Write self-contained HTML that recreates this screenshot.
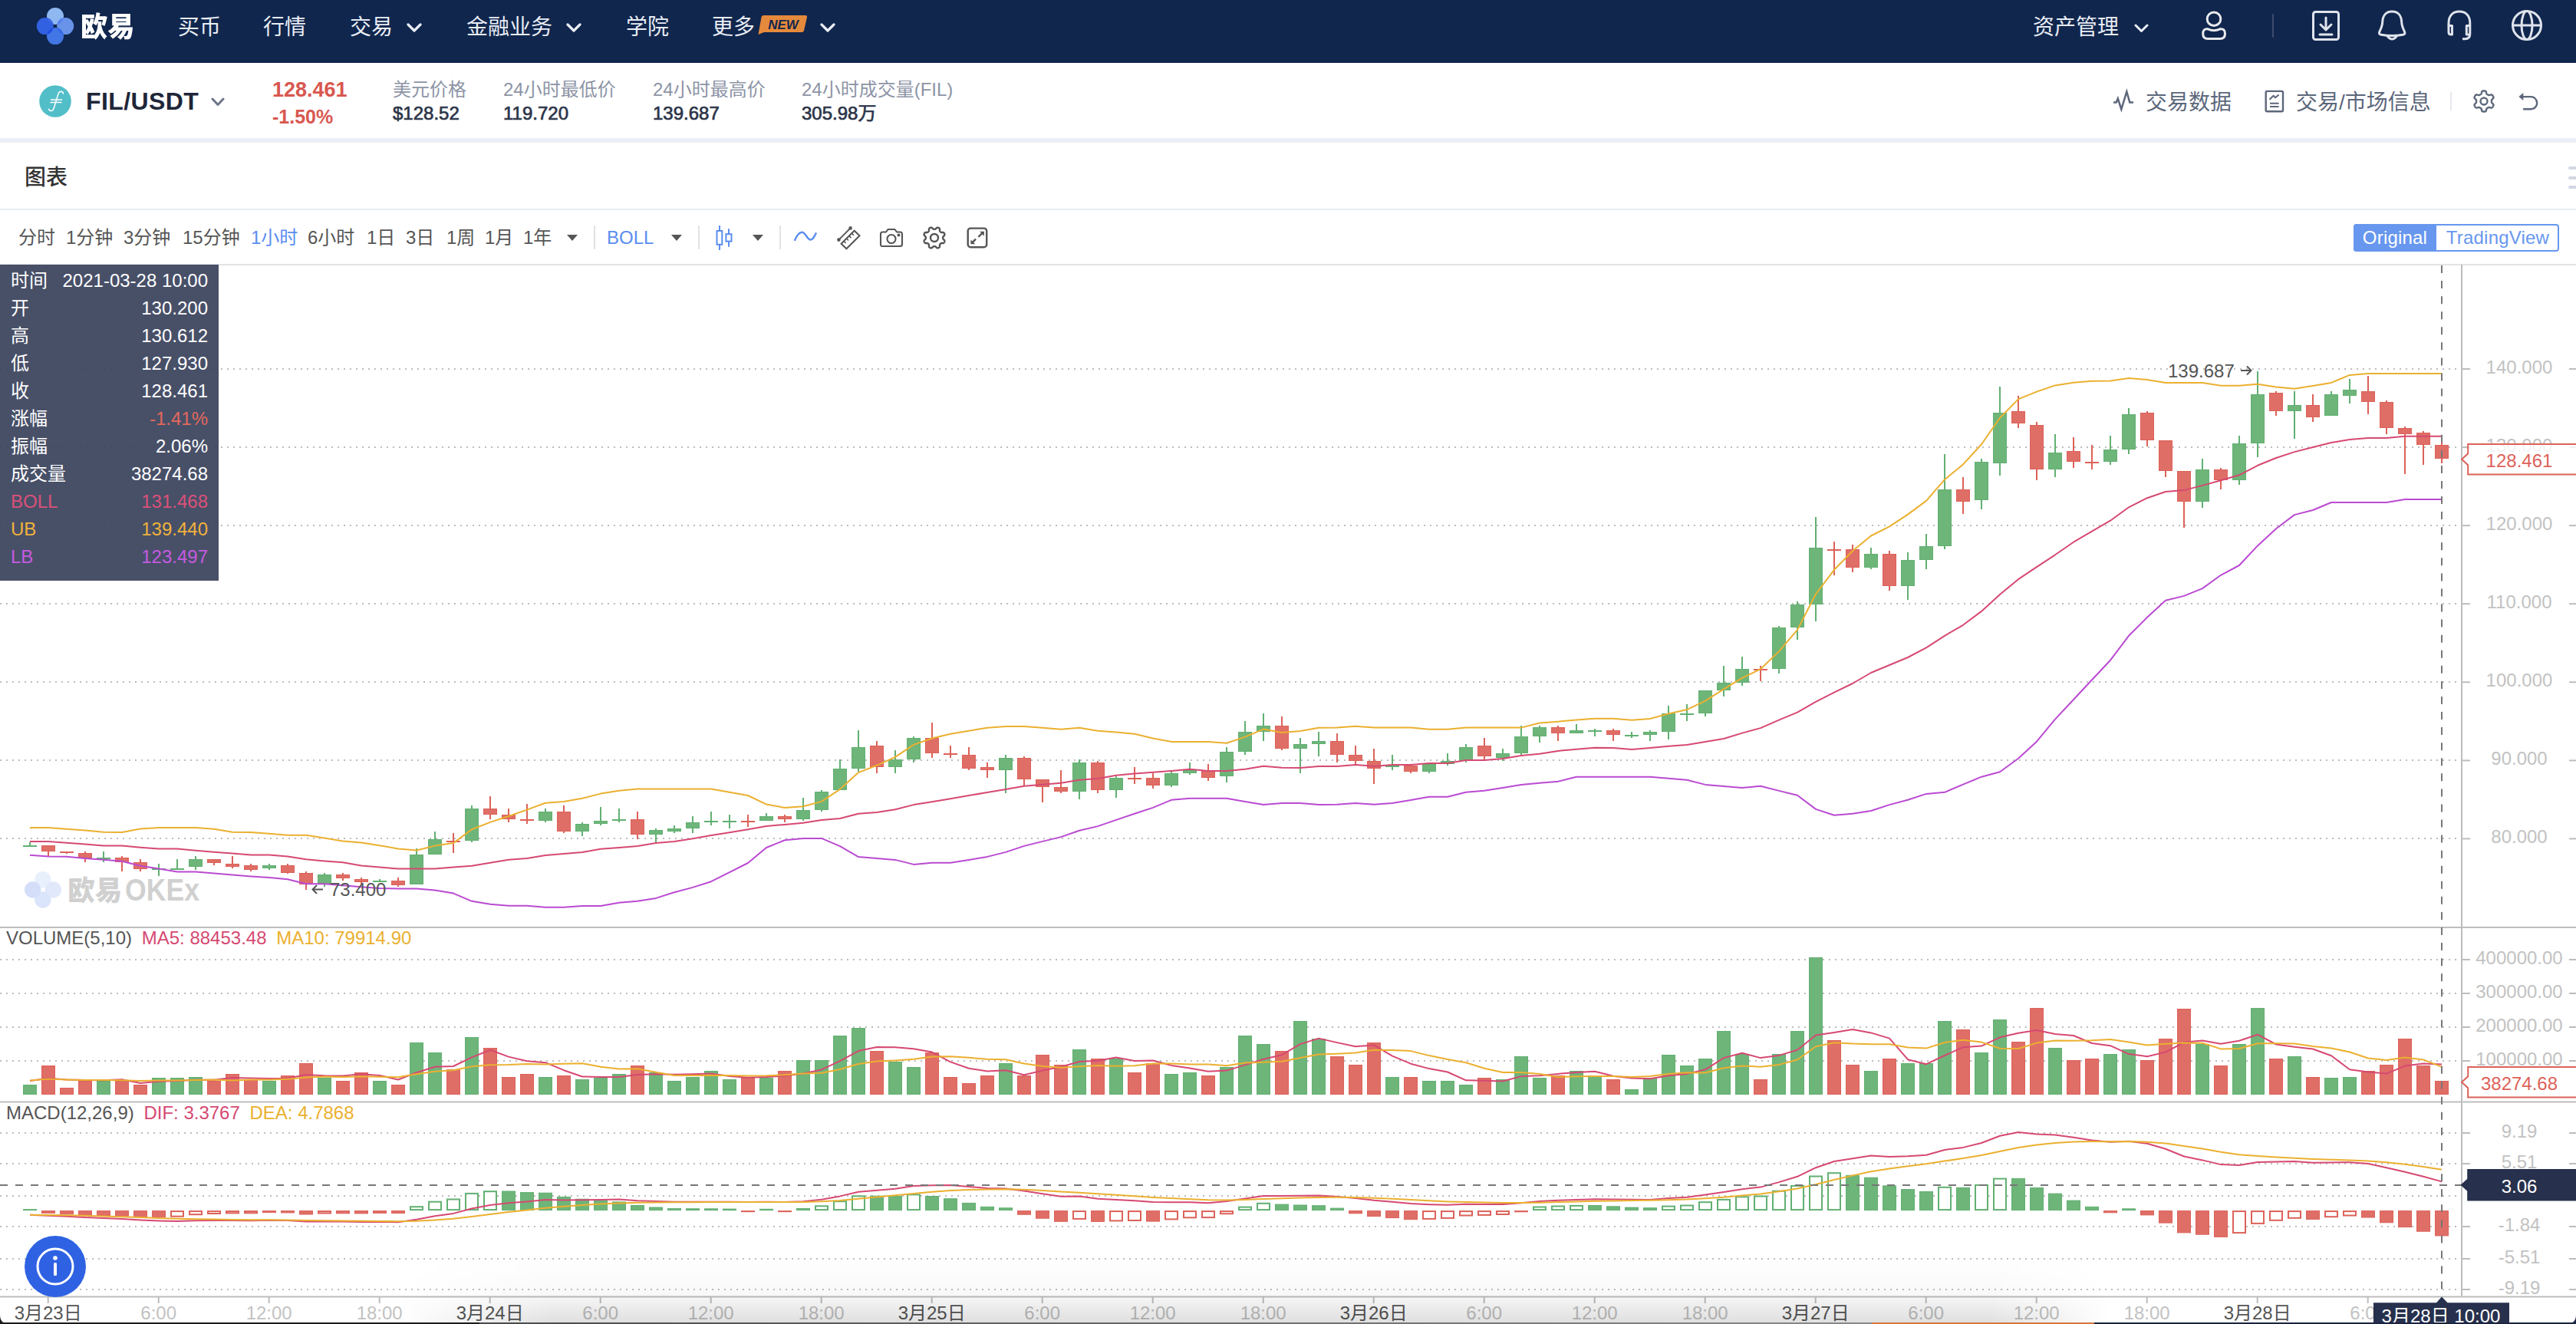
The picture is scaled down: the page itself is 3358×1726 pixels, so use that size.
<!DOCTYPE html><html lang="zh"><head><meta charset="utf-8"><title>FIL/USDT</title><style>
*{box-sizing:border-box;margin:0;padding:0}
html{background:#fff}body{width:3358px;height:1726px;background:#fff}#root{position:absolute;left:0;top:0;width:3358px;height:1726px;overflow:hidden;background:#fff}
body{position:relative;font-family:'Liberation Sans','Noto Sans CJK SC',sans-serif;color:#333}
.a{position:absolute;white-space:nowrap}
#nav{left:0;top:0;width:3358px;height:82px;background:#10264d}
.nv{color:#e9edf5;font-size:28px;line-height:40px;top:16px}
.tk{top:82px;left:0;width:3358px;height:98px;background:#fff}
.band{top:180px;left:0;width:3358px;height:6px;background:#eceef7}
.lab{font-size:24px;line-height:30px;color:#8d94a6;top:102px}
.val{font-size:24px;line-height:30px;color:#2c3549;top:133px;-webkit-text-stroke:0.7px #2c3549}
.tb{font-size:24px;line-height:30px;color:#555;top:295px}
.sep{width:2px;height:31px;top:294px;background:#e2e2e2}
.tri{width:0;height:0;border-left:7px solid transparent;border-right:7px solid transparent;border-top:8px solid #555;top:306px}
#info{left:0;top:345px;width:285px;height:412px;background:rgba(58,67,93,0.93);color:#fff;font-size:24px}
#info div{position:absolute;left:14px;right:14px;height:36px;line-height:36px}
#info span{position:absolute;right:0}
</style></head><body><div id="root">
<div id="nav" class="a">
<svg class="a" style="left:44px;top:6px" width="56" height="56" viewBox="44 6 56 56"><defs><clipPath id="cT"><circle cx="72" cy="21" r="11"/></clipPath><clipPath id="cB"><circle cx="72" cy="47.100" r="11"/></clipPath></defs><circle cx="72" cy="21" r="11" fill="#8fb8f0"/><circle cx="85.200" cy="34.100" r="11" fill="#6993e8"/><circle cx="72" cy="47.100" r="11" fill="#4376e5"/><circle cx="58.800" cy="34.100" r="11" fill="#3160e0"/><circle cx="58.800" cy="34.100" r="11" fill="#3a68e6" clip-path="url(#cT)"/><circle cx="85.200" cy="34.100" r="11" fill="#557fec" clip-path="url(#cT)"/><circle cx="58.800" cy="34.100" r="11" fill="#1f4fe0" clip-path="url(#cB)"/><circle cx="85.200" cy="34.100" r="11" fill="#3767e6" clip-path="url(#cB)"/><rect x="70" y="32.100" width="4" height="4" fill="#10264d"/></svg>
<div class="a" style="left:105px;top:12px;font-size:36.5px;line-height:48px;font-weight:900;color:#fff;font-family:'Liberation Sans','Noto Sans CJK SC',sans-serif;transform:scaleX(0.965);transform-origin:0 0">欧易</div>
<div class="a nv" style="left:232px">买币</div>
<div class="a nv" style="left:343px">行情</div>
<div class="a nv" style="left:456px">交易</div>
<svg class="a" style="left:530px;top:30px" width="20" height="12" viewBox="-2 -2 20 12"><path d="M0 0 L8.0 8 L16 0" fill="none" stroke="#e9edf5" stroke-width="3.2" stroke-linecap="round" stroke-linejoin="round"/></svg>
<div class="a nv" style="left:608px">金融业务</div>
<svg class="a" style="left:738px;top:30px" width="20" height="12" viewBox="-2 -2 20 12"><path d="M0 0 L8.0 8 L16 0" fill="none" stroke="#e9edf5" stroke-width="3.2" stroke-linecap="round" stroke-linejoin="round"/></svg>
<div class="a nv" style="left:816px">学院</div>
<div class="a nv" style="left:928px">更多</div>
<svg class="a" style="left:986px;top:18px" width="68" height="28" viewBox="0 0 68 28"><path d="M9 2 H64 Q66.5 2 66 4.5 L62 22 Q61.5 24 59 24 H10 L2.5 27 L6.5 4.5 Q7 2 9 2Z" fill="#e58a3c"/><text x="35" y="19.5" text-anchor="middle" font-size="17" font-weight="bold" font-style="italic" fill="#10264d" font-family="'Liberation Sans',sans-serif">NEW</text></svg>
<svg class="a" style="left:1069px;top:30px" width="20" height="12" viewBox="-2 -2 20 12"><path d="M0 0 L8.0 8 L16 0" fill="none" stroke="#e9edf5" stroke-width="3.2" stroke-linecap="round" stroke-linejoin="round"/></svg>
<div class="a nv" style="left:2650px">资产管理</div>
<svg class="a" style="left:2782px;top:31px" width="19" height="11.5" viewBox="-2 -2 19 11.5"><path d="M0 0 L7.5 7.5 L15 0" fill="none" stroke="#e9edf5" stroke-width="3" stroke-linecap="round" stroke-linejoin="round"/></svg>
<svg class="a" style="left:2866px;top:10px" width="40" height="46" viewBox="2866 10 40 46" fill="none" stroke="#e8e9ec" stroke-width="3" stroke-linejoin="round"><circle cx="2886" cy="24.700" r="8.800"/><path d="M2878 37.800 Q2886 41.500 2894 37.800 Q2900.500 37 2900.500 44 Q2900.500 50.500 2894 50.500 H2878 Q2871.700 50.500 2871.700 44 Q2871.700 37 2878 37.800 Z"/></svg>
<div class="a" style="left:2962px;top:18px;width:2px;height:31px;background:#3b4b6c"></div>
<svg class="a" style="left:3012px;top:12px" width="40" height="42" viewBox="0 0 40 42" fill="none" stroke="#dfe3ec" stroke-width="3" stroke-linecap="round" stroke-linejoin="round"><rect x="3.5" y="3.5" width="33" height="36" rx="3"/><path d="M20 11 V26 M13 20 L20 27 L27 20 M12 33 H28"/></svg>
<svg class="a" style="left:3098px;top:12px" width="40" height="42" viewBox="0 0 40 42" fill="none" stroke="#dfe3ec" stroke-width="3" stroke-linecap="round" stroke-linejoin="round"><path d="M20.200 3.100 C12 3.100 8 9 7.700 17 C7.500 22 6 25 3.800 29.500 Q2.500 32.500 6 33.200 Q20.200 35.800 34.400 33.200 Q37.900 32.500 36.600 29.500 C34.400 25 32.900 22 32.700 17 C32.400 9 28.400 3.100 20.200 3.100 Z"/><path d="M14.500 35.500 Q20.200 42.500 26 35.500"/></svg>
<svg class="a" style="left:3186px;top:10px" width="40" height="46" viewBox="3186 10 40 46" fill="none" stroke="#dfe3ec" stroke-width="3" stroke-linejoin="round"><path d="M3192 34 V30 C3192 20 3198 15.100 3205.900 15.100 C3213.800 15.100 3219.800 20 3219.800 30 V44 Q3219.800 50.700 3213.500 50.700 H3210"/><path d="M3192 33.500 H3196.500 V45 H3195 Q3192 45 3192 42 Z"/><path d="M3219.800 33.500 H3215.300 V45 H3219.800"/></svg>
<svg class="a" style="left:3272px;top:11px" width="44" height="44" viewBox="0 0 44 44" fill="none" stroke="#dfe3ec" stroke-width="3"><circle cx="22" cy="22" r="18.500"/><ellipse cx="22" cy="22" rx="7" ry="18.500"/><path d="M3 22 H41"/></svg>
</div>
<div class="a tk"></div><div class="a band"></div>
<svg class="a" style="left:50px;top:110px" width="44" height="44" viewBox="50 110 44 44"><circle cx="72" cy="132" r="20.800" fill="#52bec8"/><path d="M82.600 122 C81.500 118.300 77.200 118.200 75.800 123 L70.400 140.500 C69 145.300 65.300 145.600 63.500 142.400 M66.600 129.900 H80.600 M65.900 133.500 H79.900" fill="none" stroke="#fff" stroke-width="1.500" stroke-linecap="round"/></svg>
<div class="a" style="left:112px;top:112px;font-size:32px;line-height:40px;font-weight:bold;color:#1f2639;letter-spacing:0.4px">FIL/USDT</div>
<svg class="a" style="left:275px;top:127px" width="18" height="11.5" viewBox="-2 -2 18 11.5"><path d="M0 0 L7.0 7.5 L14 0" fill="none" stroke="#6e768a" stroke-width="3" stroke-linecap="round" stroke-linejoin="round"/></svg>
<div class="a" style="left:355px;top:101px;font-size:27px;line-height:32px;font-weight:bold;color:#d8574f">128.461</div>
<div class="a" style="left:355px;top:137px;font-size:25px;line-height:30px;font-weight:bold;color:#d8574f">-1.50%</div>
<div class="a lab" style="left:512px">美元价格</div><div class="a val" style="left:512px">$128.52</div>
<div class="a lab" style="left:656px">24小时最低价</div><div class="a val" style="left:656px">119.720</div>
<div class="a lab" style="left:851px">24小时最高价</div><div class="a val" style="left:851px">139.687</div>
<div class="a lab" style="left:1045px">24小时成交量(FIL)</div><div class="a val" style="left:1045px">305.98万</div>
<svg class="a" style="left:2750px;top:114px" width="36" height="34" viewBox="2750 114 36 34" fill="none" stroke="#5d677b" stroke-width="2.500" stroke-linejoin="miter"><path d="M2755 133.600 H2758.700 L2760.800 128.500 L2765.300 142.500 L2772.300 119.500 L2776.300 133.600 H2781"/></svg>
<div class="a" style="left:2797px;top:114px;font-size:28px;line-height:40px;color:#5d677b">交易数据</div>
<svg class="a" style="left:2948px;top:114px" width="34" height="36" viewBox="2948 114 34 36" fill="none" stroke="#5d677b" stroke-width="2.400" stroke-linejoin="round"><rect x="2953.700" y="118.900" width="22.300" height="26.300" rx="1.500"/><path d="M2958.500 129.800 L2963.600 124.700 L2966.100 127.300 L2970.600 123.400 M2959 134.800 H2970.600 M2959 138.900 H2970.600" stroke-width="2"/></svg>
<div class="a" style="left:2993px;top:114px;font-size:28px;line-height:40px;color:#5d677b">交易/市场信息</div>
<div class="a" style="left:3194px;top:120px;width:2px;height:24px;background:#e6e8ef"></div>
<svg class="a" style="left:3217.9px;top:112.4px" width="40" height="40" viewBox="0 0 40 40" fill="none" stroke="#5d677b" stroke-width="2.4" stroke-linejoin="round"><path d="M29.94 20.00 L29.94 20.26 L29.94 20.52 L29.94 20.78 L29.95 21.05 L29.97 21.31 L30.03 21.59 L30.17 21.88 L30.42 22.22 L30.83 22.60 L31.35 23.04 L31.85 23.51 L32.22 23.97 L32.40 24.39 L32.45 24.78 L32.42 25.14 L32.33 25.49 L32.21 25.82 L32.07 26.15 L31.91 26.47 L31.74 26.78 L31.56 27.08 L31.36 27.38 L31.15 27.66 L30.92 27.93 L30.66 28.18 L30.37 28.40 L30.01 28.55 L29.55 28.59 L28.97 28.51 L28.31 28.31 L27.67 28.08 L27.13 27.92 L26.72 27.86 L26.39 27.90 L26.12 27.98 L25.88 28.09 L25.65 28.22 L25.42 28.35 L25.20 28.48 L24.97 28.61 L24.75 28.74 L24.52 28.87 L24.29 29.00 L24.07 29.14 L23.85 29.29 L23.64 29.48 L23.45 29.75 L23.29 30.13 L23.16 30.68 L23.04 31.35 L22.89 32.02 L22.67 32.56 L22.40 32.94 L22.09 33.18 L21.75 33.33 L21.41 33.42 L21.06 33.49 L20.71 33.53 L20.35 33.55 L20.00 33.56 L19.65 33.55 L19.29 33.53 L18.94 33.49 L18.59 33.42 L18.25 33.33 L17.91 33.18 L17.60 32.94 L17.33 32.56 L17.11 32.02 L16.96 31.35 L16.84 30.68 L16.71 30.13 L16.55 29.75 L16.36 29.48 L16.15 29.29 L15.93 29.14 L15.71 29.00 L15.48 28.87 L15.25 28.74 L15.03 28.61 L14.80 28.48 L14.58 28.35 L14.35 28.22 L14.12 28.09 L13.88 27.98 L13.61 27.90 L13.28 27.86 L12.87 27.92 L12.33 28.08 L11.69 28.31 L11.03 28.51 L10.45 28.59 L9.99 28.55 L9.63 28.40 L9.34 28.18 L9.08 27.93 L8.85 27.66 L8.64 27.38 L8.44 27.08 L8.26 26.78 L8.09 26.47 L7.93 26.15 L7.79 25.82 L7.67 25.49 L7.58 25.14 L7.55 24.78 L7.60 24.39 L7.78 23.97 L8.15 23.51 L8.65 23.04 L9.17 22.60 L9.58 22.22 L9.83 21.88 L9.97 21.59 L10.03 21.31 L10.05 21.05 L10.06 20.78 L10.06 20.52 L10.06 20.26 L10.06 20.00 L10.06 19.74 L10.06 19.48 L10.06 19.22 L10.05 18.95 L10.03 18.69 L9.97 18.41 L9.83 18.12 L9.58 17.78 L9.17 17.40 L8.65 16.96 L8.15 16.49 L7.78 16.03 L7.60 15.61 L7.55 15.22 L7.58 14.86 L7.67 14.51 L7.79 14.18 L7.93 13.85 L8.09 13.53 L8.26 13.22 L8.44 12.92 L8.64 12.62 L8.85 12.34 L9.08 12.07 L9.34 11.82 L9.63 11.60 L9.99 11.45 L10.45 11.41 L11.03 11.49 L11.69 11.69 L12.33 11.92 L12.87 12.08 L13.28 12.14 L13.61 12.10 L13.88 12.02 L14.12 11.91 L14.35 11.78 L14.58 11.65 L14.80 11.52 L15.03 11.39 L15.25 11.26 L15.48 11.13 L15.71 11.00 L15.93 10.86 L16.15 10.71 L16.36 10.52 L16.55 10.25 L16.71 9.87 L16.84 9.32 L16.96 8.65 L17.11 7.98 L17.33 7.44 L17.60 7.06 L17.91 6.82 L18.25 6.67 L18.59 6.58 L18.94 6.51 L19.29 6.47 L19.65 6.45 L20.00 6.44 L20.35 6.45 L20.71 6.47 L21.06 6.51 L21.41 6.58 L21.75 6.67 L22.09 6.82 L22.40 7.06 L22.67 7.44 L22.89 7.98 L23.04 8.65 L23.16 9.32 L23.29 9.87 L23.45 10.25 L23.64 10.52 L23.85 10.71 L24.07 10.86 L24.29 11.00 L24.52 11.13 L24.75 11.26 L24.97 11.39 L25.20 11.52 L25.42 11.65 L25.65 11.78 L25.88 11.91 L26.12 12.02 L26.39 12.10 L26.72 12.14 L27.13 12.08 L27.67 11.92 L28.31 11.69 L28.97 11.49 L29.55 11.41 L30.01 11.45 L30.37 11.60 L30.66 11.82 L30.92 12.07 L31.15 12.34 L31.36 12.62 L31.56 12.92 L31.74 13.22 L31.91 13.53 L32.07 13.85 L32.21 14.18 L32.33 14.51 L32.42 14.86 L32.45 15.22 L32.40 15.61 L32.22 16.03 L31.85 16.49 L31.35 16.96 L30.83 17.40 L30.42 17.78 L30.17 18.12 L30.03 18.41 L29.97 18.69 L29.95 18.95 L29.94 19.22 L29.94 19.48 L29.94 19.74Z"/><circle cx="20" cy="20" r="4.5"/></svg>
<svg class="a" style="left:3278px;top:116px" width="36" height="32" viewBox="3278 116 36 32" fill="none" stroke="#5d677b" stroke-width="2.400" stroke-linecap="round"><path d="M3289 126.100 H3299.100 A8.100 8.100 0 0 1 3299.100 142.300 H3290"/><path d="M3283.400 126.100 L3289.300 121.100 V131.100 Z" fill="#5d677b" stroke="none"/></svg>
<div class="a" style="left:32px;top:212px;font-size:28px;line-height:40px;color:#333;font-weight:500">图表</div>
<div class="a" style="left:0;top:272px;width:3358px;height:2px;background:#e8ebf5"></div>
<div class="a" style="left:3348px;top:217px;width:14px;height:4px;border-radius:2px;background:#d3d7e3"></div>
<div class="a" style="left:3348px;top:229.5px;width:14px;height:4px;border-radius:2px;background:#d3d7e3"></div>
<div class="a" style="left:3348px;top:242px;width:14px;height:4px;border-radius:2px;background:#d3d7e3"></div>
<div class="a tb" style="left:24px">分时</div>
<div class="a tb" style="left:86px">1分钟</div>
<div class="a tb" style="left:161px">3分钟</div>
<div class="a tb" style="left:238px">15分钟</div>
<div class="a tb" style="left:327px;color:#5b8def">1小时</div>
<div class="a tb" style="left:401px">6小时</div>
<div class="a tb" style="left:478px">1日</div>
<div class="a tb" style="left:529px">3日</div>
<div class="a tb" style="left:582px">1周</div>
<div class="a tb" style="left:632px">1月</div>
<div class="a tb" style="left:682px">1年</div>
<div class="a tri" style="left:739px"></div>
<div class="a sep" style="left:774px"></div>
<div class="a tb" style="left:791px;color:#5b8def">BOLL</div>
<div class="a tri" style="left:875px"></div>
<div class="a sep" style="left:910px"></div>
<svg class="a" style="left:930px;top:293px" width="28" height="34" viewBox="0 0 28 34" fill="none" stroke="#5b8def" stroke-width="2"><path d="M8 1 V33 M20 5.200 V28.700"/><rect x="4.500" y="7.900" width="6.800" height="17.900" fill="#fff"/><rect x="16.400" y="12.200" width="7.100" height="9.400" fill="#fff"/></svg>
<div class="a tri" style="left:981px"></div>
<div class="a sep" style="left:1016px"></div>
<svg class="a" style="left:1030px;top:294px" width="40" height="30" viewBox="1030 294 40 30" fill="none" stroke="#5b8def" stroke-width="2.400"><path d="M1035.800 313.900 C1039 306 1042 302.800 1045.500 302.800 C1050 302.800 1052.500 312.600 1056.400 312.600 C1059.500 312.600 1061.500 308.500 1064 303.400"/></svg>
<svg class="a" style="left:1090px;top:294px" width="34" height="34" viewBox="0 0 34 34" fill="none" stroke="#555" stroke-width="2" stroke-linejoin="miter"><path d="M3.400 18.600 L18.600 3.400"/><circle cx="18.600" cy="3.400" r="1.300" fill="#555"/><circle cx="3.400" cy="18.600" r="1.300" fill="#555"/><path d="M6.600 23.700 L23.700 6.700 L30.500 13.200 L13.400 30.300 Z"/><path d="M10.0 20.3 l2.600 2.600 M13.4 16.9 l2.600 2.600 M16.9 13.5 l2.600 2.600 M20.3 10.1 l2.600 2.600" stroke-width="1.600"/></svg>
<svg class="a" style="left:1146px;top:297px" width="32" height="26" viewBox="0 0 32 26" fill="none" stroke="#555" stroke-width="2.100" stroke-linejoin="round"><path d="M4.500 5.500 H9 L11.500 2 H20.500 L23 5.500 H27.500 Q30 5.500 30 8 V21.500 Q30 24 27.500 24 H4.500 Q2 24 2 21.500 V8 Q2 5.500 4.500 5.500Z"/><circle cx="16" cy="14.500" r="5.500"/><circle cx="25.500" cy="9.500" r="1" fill="#555"/></svg>
<svg class="a" style="left:1197.8px;top:290.1px" width="40" height="40" viewBox="0 0 40 40" fill="none" stroke="#555" stroke-width="2.4" stroke-linejoin="round"><path d="M31.13 20.00 L31.13 20.29 L31.15 20.58 L31.20 20.88 L31.28 21.19 L31.46 21.51 L31.75 21.86 L32.17 22.26 L32.64 22.69 L33.03 23.13 L33.28 23.56 L33.38 23.96 L33.38 24.35 L33.32 24.72 L33.22 25.08 L33.09 25.42 L32.94 25.76 L32.76 26.08 L32.54 26.39 L32.26 26.66 L31.90 26.87 L31.43 27.00 L30.84 27.04 L30.20 27.01 L29.62 26.99 L29.17 27.03 L28.82 27.14 L28.54 27.29 L28.30 27.47 L28.08 27.67 L27.87 27.87 L27.67 28.08 L27.47 28.30 L27.29 28.54 L27.14 28.82 L27.03 29.17 L26.99 29.62 L27.01 30.20 L27.04 30.84 L27.00 31.43 L26.87 31.90 L26.66 32.26 L26.39 32.54 L26.08 32.76 L25.76 32.94 L25.42 33.09 L25.08 33.22 L24.72 33.32 L24.35 33.38 L23.96 33.38 L23.56 33.28 L23.13 33.03 L22.69 32.64 L22.26 32.17 L21.86 31.75 L21.51 31.46 L21.19 31.28 L20.88 31.20 L20.58 31.15 L20.29 31.13 L20.00 31.13 L19.71 31.13 L19.42 31.15 L19.12 31.20 L18.81 31.28 L18.49 31.46 L18.14 31.75 L17.74 32.17 L17.31 32.64 L16.87 33.03 L16.44 33.28 L16.04 33.38 L15.65 33.38 L15.28 33.32 L14.92 33.22 L14.58 33.09 L14.24 32.94 L13.92 32.76 L13.61 32.54 L13.34 32.26 L13.13 31.90 L13.00 31.43 L12.96 30.84 L12.99 30.20 L13.01 29.62 L12.97 29.17 L12.86 28.82 L12.71 28.54 L12.53 28.30 L12.33 28.08 L12.13 27.87 L11.92 27.67 L11.70 27.47 L11.46 27.29 L11.18 27.14 L10.83 27.03 L10.38 26.99 L9.80 27.01 L9.16 27.04 L8.57 27.00 L8.10 26.87 L7.74 26.66 L7.46 26.39 L7.24 26.08 L7.06 25.76 L6.91 25.42 L6.78 25.08 L6.68 24.72 L6.62 24.35 L6.62 23.96 L6.72 23.56 L6.97 23.13 L7.36 22.69 L7.83 22.26 L8.25 21.86 L8.54 21.51 L8.72 21.19 L8.80 20.88 L8.85 20.58 L8.87 20.29 L8.87 20.00 L8.87 19.71 L8.85 19.42 L8.80 19.12 L8.72 18.81 L8.54 18.49 L8.25 18.14 L7.83 17.74 L7.36 17.31 L6.97 16.87 L6.72 16.44 L6.62 16.04 L6.62 15.65 L6.68 15.28 L6.78 14.92 L6.91 14.58 L7.06 14.24 L7.24 13.92 L7.46 13.61 L7.74 13.34 L8.10 13.13 L8.57 13.00 L9.16 12.96 L9.80 12.99 L10.38 13.01 L10.83 12.97 L11.18 12.86 L11.46 12.71 L11.70 12.53 L11.92 12.33 L12.13 12.13 L12.33 11.92 L12.53 11.70 L12.71 11.46 L12.86 11.18 L12.97 10.83 L13.01 10.38 L12.99 9.80 L12.96 9.16 L13.00 8.57 L13.13 8.10 L13.34 7.74 L13.61 7.46 L13.92 7.24 L14.24 7.06 L14.58 6.91 L14.92 6.78 L15.28 6.68 L15.65 6.62 L16.04 6.62 L16.44 6.72 L16.87 6.97 L17.31 7.36 L17.74 7.83 L18.14 8.25 L18.49 8.54 L18.81 8.72 L19.12 8.80 L19.42 8.85 L19.71 8.87 L20.00 8.87 L20.29 8.87 L20.58 8.85 L20.88 8.80 L21.19 8.72 L21.51 8.54 L21.86 8.25 L22.26 7.83 L22.69 7.36 L23.13 6.97 L23.56 6.72 L23.96 6.62 L24.35 6.62 L24.72 6.68 L25.08 6.78 L25.42 6.91 L25.76 7.06 L26.08 7.24 L26.39 7.46 L26.66 7.74 L26.87 8.10 L27.00 8.57 L27.04 9.16 L27.01 9.80 L26.99 10.38 L27.03 10.83 L27.14 11.18 L27.29 11.46 L27.47 11.70 L27.67 11.92 L27.87 12.13 L28.08 12.33 L28.30 12.53 L28.54 12.71 L28.82 12.86 L29.17 12.97 L29.62 13.01 L30.20 12.99 L30.84 12.96 L31.43 13.00 L31.90 13.13 L32.26 13.34 L32.54 13.61 L32.76 13.92 L32.94 14.24 L33.09 14.58 L33.22 14.92 L33.32 15.28 L33.38 15.65 L33.38 16.04 L33.28 16.44 L33.03 16.87 L32.64 17.31 L32.17 17.74 L31.75 18.14 L31.46 18.49 L31.28 18.81 L31.20 19.12 L31.15 19.42 L31.13 19.71Z"/><circle cx="20" cy="20" r="5"/></svg>
<svg class="a" style="left:1256px;top:292px" width="36" height="36" viewBox="1256 292 36 36" fill="none" stroke="#555" stroke-width="2.400" stroke-linejoin="round"><rect x="1261.700" y="297.600" width="24.500" height="24.600" rx="3.500"/><path d="M1275.400 308.800 L1281 303.300 M1272 311.700 L1266.500 317.200" stroke-width="2.400"/><path d="M1277.100 301.700 H1282.900 V307.700 Z M1265.400 312.600 V318.300 H1271.300 Z" fill="#555" stroke="none"/></svg>
<div class="a" style="left:3068px;top:292px;width:268px;height:36px;border:2px solid #6797ee;border-radius:4px;background:#fff"></div>
<div class="a" style="left:3068px;top:292px;width:108px;height:36px;background:#6797ee;border-radius:4px 0 0 4px;color:#fff;font-size:24px;line-height:36px;text-align:center;letter-spacing:0.2px">Original</div>
<div class="a" style="left:3176px;top:292px;width:160px;height:36px;color:#6797ee;font-size:24px;line-height:36px;text-align:center;letter-spacing:0.2px">TradingView</div>
<div class="a" style="left:0;top:344px;width:3358px;height:2px;background:#e3e3e3"></div>
<svg id="chart" width="3358" height="1381" viewBox="0 345 3358 1381" style="position:absolute;left:0;top:345px;font-family:'Liberation Sans','Noto Sans CJK SC',sans-serif;font-size:24px">
<line x1="0" y1="1093" x2="3209" y2="1093" stroke="#bdbdbd" stroke-width="2" stroke-dasharray="2 6"/>
<line x1="0" y1="991" x2="3209" y2="991" stroke="#bdbdbd" stroke-width="2" stroke-dasharray="2 6"/>
<line x1="0" y1="889" x2="3209" y2="889" stroke="#bdbdbd" stroke-width="2" stroke-dasharray="2 6"/>
<line x1="0" y1="787" x2="3209" y2="787" stroke="#bdbdbd" stroke-width="2" stroke-dasharray="2 6"/>
<line x1="0" y1="685" x2="3209" y2="685" stroke="#bdbdbd" stroke-width="2" stroke-dasharray="2 6"/>
<line x1="0" y1="583" x2="3209" y2="583" stroke="#bdbdbd" stroke-width="2" stroke-dasharray="2 6"/>
<line x1="0" y1="481" x2="3209" y2="481" stroke="#bdbdbd" stroke-width="2" stroke-dasharray="2 6"/>
<line x1="0" y1="1383" x2="3209" y2="1383" stroke="#bdbdbd" stroke-width="2" stroke-dasharray="2 6"/>
<line x1="0" y1="1339" x2="3209" y2="1339" stroke="#bdbdbd" stroke-width="2" stroke-dasharray="2 6"/>
<line x1="0" y1="1295" x2="3209" y2="1295" stroke="#bdbdbd" stroke-width="2" stroke-dasharray="2 6"/>
<line x1="0" y1="1251" x2="3209" y2="1251" stroke="#bdbdbd" stroke-width="2" stroke-dasharray="2 6"/>
<line x1="0" y1="1477" x2="3209" y2="1477" stroke="#bdbdbd" stroke-width="2" stroke-dasharray="2 6"/>
<line x1="0" y1="1517" x2="3209" y2="1517" stroke="#bdbdbd" stroke-width="2" stroke-dasharray="2 6"/>
<line x1="0" y1="1559" x2="3209" y2="1559" stroke="#bdbdbd" stroke-width="2" stroke-dasharray="2 6"/>
<line x1="0" y1="1599" x2="3209" y2="1599" stroke="#bdbdbd" stroke-width="2" stroke-dasharray="2 6"/>
<line x1="0" y1="1641" x2="3209" y2="1641" stroke="#bdbdbd" stroke-width="2" stroke-dasharray="2 6"/>
<line x1="0" y1="1681" x2="3209" y2="1681" stroke="#bdbdbd" stroke-width="2" stroke-dasharray="2 6"/>
<circle cx="55.8" cy="1146.7" r="10.7" fill="#e8f0fc"/><circle cx="69.3" cy="1159.9" r="10.7" fill="#e0e8fa"/><circle cx="55.8" cy="1173" r="10.7" fill="#dae4fa"/><circle cx="42.7" cy="1159.9" r="10.7" fill="#d4def8"/><rect x="53.8" y="1157.9" width="4" height="4" fill="#fff"/>
<text x="88.3" y="1173.6" font-size="36.5" textLength="71" lengthAdjust="spacingAndGlyphs" font-weight="900" fill="#d0d0d0" font-family="'Liberation Sans','Noto Sans CJK SC',sans-serif">欧易</text>
<text x="163" y="1174" font-size="40" textLength="97" lengthAdjust="spacingAndGlyphs" font-weight="bold" fill="#d0d0d0">OKEx</text>
<rect x="38.0" y="1098" width="2" height="6" fill="#62b072"/>
<rect x="30.0" y="1102.0" width="18" height="2.0" fill="#62b072"/>
<rect x="62.0" y="1102" width="2" height="14" fill="#dc6259"/>
<rect x="54.5" y="1102.5" width="17" height="7.0" fill="#df6e67" stroke="#dc6259" stroke-width="1"/>
<rect x="86.0" y="1110" width="2" height="3" fill="#dc6259"/>
<rect x="78.0" y="1110.0" width="18" height="2.0" fill="#dc6259"/>
<rect x="110.0" y="1110" width="2" height="14" fill="#dc6259"/>
<rect x="102.5" y="1112.5" width="17" height="6.0" fill="#df6e67" stroke="#dc6259" stroke-width="1"/>
<rect x="134.0" y="1110" width="2" height="14" fill="#62b072"/>
<rect x="126.0" y="1118.0" width="18" height="2.0" fill="#62b072"/>
<rect x="158.0" y="1116" width="2" height="20" fill="#dc6259"/>
<rect x="150.5" y="1118.5" width="17" height="5.0" fill="#df6e67" stroke="#dc6259" stroke-width="1"/>
<rect x="182.0" y="1120" width="2" height="16" fill="#dc6259"/>
<rect x="174.5" y="1124.5" width="17" height="8.0" fill="#df6e67" stroke="#dc6259" stroke-width="1"/>
<rect x="206.0" y="1126" width="2" height="16" fill="#62b072"/>
<rect x="198.0" y="1132.0" width="18" height="2.0" fill="#62b072"/>
<rect x="230.0" y="1120" width="2" height="13" fill="#62b072"/>
<rect x="222.0" y="1132.0" width="18" height="2.0" fill="#62b072"/>
<rect x="254.0" y="1116" width="2" height="18" fill="#62b072"/>
<rect x="246.5" y="1120.5" width="17" height="9.0" fill="#6eb57a" stroke="#62b072" stroke-width="1"/>
<rect x="278.0" y="1120" width="2" height="8" fill="#dc6259"/>
<rect x="270.5" y="1120.5" width="17" height="4.0" fill="#df6e67" stroke="#dc6259" stroke-width="1"/>
<rect x="302.0" y="1116" width="2" height="16" fill="#dc6259"/>
<rect x="294.5" y="1126.5" width="17" height="3.0" fill="#df6e67" stroke="#dc6259" stroke-width="1"/>
<rect x="326.0" y="1126" width="2" height="10" fill="#dc6259"/>
<rect x="318.5" y="1128.5" width="17" height="5.0" fill="#df6e67" stroke="#dc6259" stroke-width="1"/>
<rect x="350.0" y="1126" width="2" height="8" fill="#62b072"/>
<rect x="342.5" y="1128.5" width="17" height="3.0" fill="#6eb57a" stroke="#62b072" stroke-width="1"/>
<rect x="374.0" y="1126" width="2" height="13" fill="#dc6259"/>
<rect x="366.5" y="1128.5" width="17" height="9.0" fill="#df6e67" stroke="#dc6259" stroke-width="1"/>
<rect x="398.0" y="1136" width="2" height="24" fill="#dc6259"/>
<rect x="390.5" y="1138.5" width="17" height="14.0" fill="#df6e67" stroke="#dc6259" stroke-width="1"/>
<rect x="422.0" y="1138" width="2" height="18" fill="#62b072"/>
<rect x="414.5" y="1140.5" width="17" height="11.0" fill="#6eb57a" stroke="#62b072" stroke-width="1"/>
<rect x="446.0" y="1138" width="2" height="10" fill="#dc6259"/>
<rect x="438.5" y="1140.5" width="17" height="4.0" fill="#df6e67" stroke="#dc6259" stroke-width="1"/>
<rect x="470.0" y="1144" width="2" height="8" fill="#dc6259"/>
<rect x="462.5" y="1146.5" width="17" height="3.0" fill="#df6e67" stroke="#dc6259" stroke-width="1"/>
<rect x="494.0" y="1146" width="2" height="4" fill="#62b072"/>
<rect x="486.0" y="1148.0" width="18" height="2.0" fill="#62b072"/>
<rect x="518.0" y="1144" width="2" height="12" fill="#dc6259"/>
<rect x="510.5" y="1148.5" width="17" height="5.0" fill="#df6e67" stroke="#dc6259" stroke-width="1"/>
<rect x="542.0" y="1106" width="2" height="47" fill="#62b072"/>
<rect x="534.5" y="1114.5" width="17" height="38.0" fill="#6eb57a" stroke="#62b072" stroke-width="1"/>
<rect x="566.0" y="1084" width="2" height="30" fill="#62b072"/>
<rect x="558.5" y="1094.5" width="17" height="19.0" fill="#6eb57a" stroke="#62b072" stroke-width="1"/>
<rect x="590.0" y="1086" width="2" height="26" fill="#dc6259"/>
<rect x="582.0" y="1096.0" width="18" height="2.0" fill="#dc6259"/>
<rect x="614.0" y="1050" width="2" height="48" fill="#62b072"/>
<rect x="606.5" y="1054.5" width="17" height="41.0" fill="#6eb57a" stroke="#62b072" stroke-width="1"/>
<rect x="638.0" y="1038" width="2" height="30" fill="#dc6259"/>
<rect x="630.5" y="1054.5" width="17" height="7.0" fill="#df6e67" stroke="#dc6259" stroke-width="1"/>
<rect x="662.0" y="1054" width="2" height="18" fill="#dc6259"/>
<rect x="654.5" y="1062.5" width="17" height="5.0" fill="#df6e67" stroke="#dc6259" stroke-width="1"/>
<rect x="686.0" y="1048" width="2" height="26" fill="#dc6259"/>
<rect x="678.0" y="1068.0" width="18" height="2.0" fill="#dc6259"/>
<rect x="710.0" y="1054" width="2" height="18" fill="#62b072"/>
<rect x="702.5" y="1058.5" width="17" height="11.0" fill="#6eb57a" stroke="#62b072" stroke-width="1"/>
<rect x="734.0" y="1050" width="2" height="36" fill="#dc6259"/>
<rect x="726.5" y="1058.5" width="17" height="25.0" fill="#df6e67" stroke="#dc6259" stroke-width="1"/>
<rect x="758.0" y="1072" width="2" height="18" fill="#62b072"/>
<rect x="750.5" y="1074.5" width="17" height="9.0" fill="#6eb57a" stroke="#62b072" stroke-width="1"/>
<rect x="782.0" y="1052" width="2" height="24" fill="#62b072"/>
<rect x="774.5" y="1070.5" width="17" height="3.0" fill="#6eb57a" stroke="#62b072" stroke-width="1"/>
<rect x="806.0" y="1054" width="2" height="18" fill="#62b072"/>
<rect x="798.0" y="1068.0" width="18" height="2.0" fill="#62b072"/>
<rect x="830.0" y="1058" width="2" height="36" fill="#dc6259"/>
<rect x="822.5" y="1068.5" width="17" height="19.0" fill="#df6e67" stroke="#dc6259" stroke-width="1"/>
<rect x="854.0" y="1080" width="2" height="18" fill="#62b072"/>
<rect x="846.5" y="1082.5" width="17" height="5.0" fill="#6eb57a" stroke="#62b072" stroke-width="1"/>
<rect x="878.0" y="1076" width="2" height="10" fill="#62b072"/>
<rect x="870.5" y="1080.5" width="17" height="3.0" fill="#6eb57a" stroke="#62b072" stroke-width="1"/>
<rect x="902.0" y="1064" width="2" height="22" fill="#62b072"/>
<rect x="894.5" y="1072.5" width="17" height="7.0" fill="#6eb57a" stroke="#62b072" stroke-width="1"/>
<rect x="926.0" y="1058" width="2" height="18" fill="#62b072"/>
<rect x="918.0" y="1070.0" width="18" height="2.0" fill="#62b072"/>
<rect x="950.0" y="1062" width="2" height="18" fill="#62b072"/>
<rect x="942.0" y="1070.0" width="18" height="2.0" fill="#62b072"/>
<rect x="974.0" y="1062" width="2" height="16" fill="#dc6259"/>
<rect x="966.0" y="1070.0" width="18" height="2.0" fill="#dc6259"/>
<rect x="998.0" y="1060" width="2" height="10" fill="#62b072"/>
<rect x="990.5" y="1064.5" width="17" height="5.0" fill="#6eb57a" stroke="#62b072" stroke-width="1"/>
<rect x="1022.0" y="1062" width="2" height="10" fill="#dc6259"/>
<rect x="1014.5" y="1064.5" width="17" height="3.0" fill="#df6e67" stroke="#dc6259" stroke-width="1"/>
<rect x="1046.0" y="1040" width="2" height="30" fill="#62b072"/>
<rect x="1038.5" y="1056.5" width="17" height="11.0" fill="#6eb57a" stroke="#62b072" stroke-width="1"/>
<rect x="1070.0" y="1030" width="2" height="28" fill="#62b072"/>
<rect x="1062.5" y="1032.5" width="17" height="23.0" fill="#6eb57a" stroke="#62b072" stroke-width="1"/>
<rect x="1094.0" y="990" width="2" height="40" fill="#62b072"/>
<rect x="1086.5" y="1002.5" width="17" height="27.0" fill="#6eb57a" stroke="#62b072" stroke-width="1"/>
<rect x="1118.0" y="952" width="2" height="54" fill="#62b072"/>
<rect x="1110.5" y="974.5" width="17" height="27.0" fill="#6eb57a" stroke="#62b072" stroke-width="1"/>
<rect x="1142.0" y="966" width="2" height="42" fill="#dc6259"/>
<rect x="1134.5" y="972.5" width="17" height="27.0" fill="#df6e67" stroke="#dc6259" stroke-width="1"/>
<rect x="1166.0" y="978" width="2" height="30" fill="#62b072"/>
<rect x="1158.5" y="990.5" width="17" height="9.0" fill="#6eb57a" stroke="#62b072" stroke-width="1"/>
<rect x="1190.0" y="960" width="2" height="34" fill="#62b072"/>
<rect x="1182.5" y="962.5" width="17" height="27.0" fill="#6eb57a" stroke="#62b072" stroke-width="1"/>
<rect x="1214.0" y="942" width="2" height="46" fill="#dc6259"/>
<rect x="1206.5" y="962.5" width="17" height="19.0" fill="#df6e67" stroke="#dc6259" stroke-width="1"/>
<rect x="1238.0" y="972" width="2" height="16" fill="#dc6259"/>
<rect x="1230.0" y="982.0" width="18" height="2.0" fill="#dc6259"/>
<rect x="1262.0" y="974" width="2" height="30" fill="#dc6259"/>
<rect x="1254.5" y="984.5" width="17" height="17.0" fill="#df6e67" stroke="#dc6259" stroke-width="1"/>
<rect x="1286.0" y="994" width="2" height="20" fill="#dc6259"/>
<rect x="1278.5" y="1000.5" width="17" height="3.0" fill="#df6e67" stroke="#dc6259" stroke-width="1"/>
<rect x="1310.0" y="984" width="2" height="50" fill="#62b072"/>
<rect x="1302.5" y="988.5" width="17" height="15.0" fill="#6eb57a" stroke="#62b072" stroke-width="1"/>
<rect x="1334.0" y="986" width="2" height="38" fill="#dc6259"/>
<rect x="1326.5" y="988.5" width="17" height="27.0" fill="#df6e67" stroke="#dc6259" stroke-width="1"/>
<rect x="1358.0" y="1016" width="2" height="30" fill="#dc6259"/>
<rect x="1350.5" y="1016.5" width="17" height="9.0" fill="#df6e67" stroke="#dc6259" stroke-width="1"/>
<rect x="1382.0" y="1004" width="2" height="30" fill="#dc6259"/>
<rect x="1374.5" y="1026.5" width="17" height="5.0" fill="#df6e67" stroke="#dc6259" stroke-width="1"/>
<rect x="1406.0" y="990" width="2" height="52" fill="#62b072"/>
<rect x="1398.5" y="994.5" width="17" height="37.0" fill="#6eb57a" stroke="#62b072" stroke-width="1"/>
<rect x="1430.0" y="992" width="2" height="42" fill="#dc6259"/>
<rect x="1422.5" y="994.5" width="17" height="35.0" fill="#df6e67" stroke="#dc6259" stroke-width="1"/>
<rect x="1454.0" y="1012" width="2" height="28" fill="#62b072"/>
<rect x="1446.5" y="1014.5" width="17" height="15.0" fill="#6eb57a" stroke="#62b072" stroke-width="1"/>
<rect x="1478.0" y="1000" width="2" height="22" fill="#dc6259"/>
<rect x="1470.0" y="1014.0" width="18" height="2.0" fill="#dc6259"/>
<rect x="1502.0" y="1008" width="2" height="20" fill="#dc6259"/>
<rect x="1494.5" y="1014.5" width="17" height="9.0" fill="#df6e67" stroke="#dc6259" stroke-width="1"/>
<rect x="1526.0" y="1006" width="2" height="20" fill="#62b072"/>
<rect x="1518.5" y="1008.5" width="17" height="15.0" fill="#6eb57a" stroke="#62b072" stroke-width="1"/>
<rect x="1550.0" y="994" width="2" height="16" fill="#62b072"/>
<rect x="1542.5" y="1004.5" width="17" height="3.0" fill="#6eb57a" stroke="#62b072" stroke-width="1"/>
<rect x="1574.0" y="996" width="2" height="22" fill="#dc6259"/>
<rect x="1566.5" y="1004.5" width="17" height="9.0" fill="#df6e67" stroke="#dc6259" stroke-width="1"/>
<rect x="1598.0" y="974" width="2" height="46" fill="#62b072"/>
<rect x="1590.5" y="980.5" width="17" height="31.0" fill="#6eb57a" stroke="#62b072" stroke-width="1"/>
<rect x="1622.0" y="940" width="2" height="44" fill="#62b072"/>
<rect x="1614.5" y="954.5" width="17" height="25.0" fill="#6eb57a" stroke="#62b072" stroke-width="1"/>
<rect x="1646.0" y="930" width="2" height="36" fill="#62b072"/>
<rect x="1638.5" y="946.5" width="17" height="7.0" fill="#6eb57a" stroke="#62b072" stroke-width="1"/>
<rect x="1670.0" y="934" width="2" height="44" fill="#dc6259"/>
<rect x="1662.5" y="946.5" width="17" height="29.0" fill="#df6e67" stroke="#dc6259" stroke-width="1"/>
<rect x="1694.0" y="962" width="2" height="46" fill="#62b072"/>
<rect x="1686.5" y="970.5" width="17" height="5.0" fill="#6eb57a" stroke="#62b072" stroke-width="1"/>
<rect x="1718.0" y="954" width="2" height="32" fill="#62b072"/>
<rect x="1710.5" y="966.5" width="17" height="3.0" fill="#6eb57a" stroke="#62b072" stroke-width="1"/>
<rect x="1742.0" y="956" width="2" height="38" fill="#dc6259"/>
<rect x="1734.5" y="966.5" width="17" height="17.0" fill="#df6e67" stroke="#dc6259" stroke-width="1"/>
<rect x="1766.0" y="972" width="2" height="24" fill="#dc6259"/>
<rect x="1758.5" y="984.5" width="17" height="7.0" fill="#df6e67" stroke="#dc6259" stroke-width="1"/>
<rect x="1790.0" y="976" width="2" height="46" fill="#dc6259"/>
<rect x="1782.5" y="992.5" width="17" height="9.0" fill="#df6e67" stroke="#dc6259" stroke-width="1"/>
<rect x="1814.0" y="984" width="2" height="20" fill="#62b072"/>
<rect x="1806.0" y="998.0" width="18" height="2.0" fill="#62b072"/>
<rect x="1838.0" y="996" width="2" height="12" fill="#dc6259"/>
<rect x="1830.5" y="998.5" width="17" height="7.0" fill="#df6e67" stroke="#dc6259" stroke-width="1"/>
<rect x="1862.0" y="996" width="2" height="12" fill="#62b072"/>
<rect x="1854.5" y="996.5" width="17" height="9.0" fill="#6eb57a" stroke="#62b072" stroke-width="1"/>
<rect x="1886.0" y="982" width="2" height="16" fill="#62b072"/>
<rect x="1878.5" y="992.5" width="17" height="3.0" fill="#6eb57a" stroke="#62b072" stroke-width="1"/>
<rect x="1910.0" y="970" width="2" height="24" fill="#62b072"/>
<rect x="1902.5" y="974.5" width="17" height="17.0" fill="#6eb57a" stroke="#62b072" stroke-width="1"/>
<rect x="1934.0" y="962" width="2" height="28" fill="#dc6259"/>
<rect x="1926.5" y="972.5" width="17" height="13.0" fill="#df6e67" stroke="#dc6259" stroke-width="1"/>
<rect x="1958.0" y="976" width="2" height="16" fill="#62b072"/>
<rect x="1950.5" y="982.5" width="17" height="5.0" fill="#6eb57a" stroke="#62b072" stroke-width="1"/>
<rect x="1982.0" y="946" width="2" height="38" fill="#62b072"/>
<rect x="1974.5" y="960.5" width="17" height="21.0" fill="#6eb57a" stroke="#62b072" stroke-width="1"/>
<rect x="2006.0" y="946" width="2" height="22" fill="#62b072"/>
<rect x="1998.5" y="948.5" width="17" height="11.0" fill="#6eb57a" stroke="#62b072" stroke-width="1"/>
<rect x="2030.0" y="946" width="2" height="20" fill="#dc6259"/>
<rect x="2022.5" y="948.5" width="17" height="7.0" fill="#df6e67" stroke="#dc6259" stroke-width="1"/>
<rect x="2054.0" y="944" width="2" height="12" fill="#62b072"/>
<rect x="2046.5" y="952.5" width="17" height="3.0" fill="#6eb57a" stroke="#62b072" stroke-width="1"/>
<rect x="2078.0" y="950" width="2" height="10" fill="#62b072"/>
<rect x="2070.0" y="952.0" width="18" height="2.0" fill="#62b072"/>
<rect x="2102.0" y="950" width="2" height="16" fill="#dc6259"/>
<rect x="2094.5" y="952.5" width="17" height="5.0" fill="#df6e67" stroke="#dc6259" stroke-width="1"/>
<rect x="2126.0" y="954" width="2" height="8" fill="#62b072"/>
<rect x="2118.0" y="958.0" width="18" height="2.0" fill="#62b072"/>
<rect x="2150.0" y="952" width="2" height="14" fill="#62b072"/>
<rect x="2142.5" y="954.5" width="17" height="3.0" fill="#6eb57a" stroke="#62b072" stroke-width="1"/>
<rect x="2174.0" y="920" width="2" height="44" fill="#62b072"/>
<rect x="2166.5" y="930.5" width="17" height="23.0" fill="#6eb57a" stroke="#62b072" stroke-width="1"/>
<rect x="2198.0" y="918" width="2" height="22" fill="#62b072"/>
<rect x="2190.0" y="930.0" width="18" height="2.0" fill="#62b072"/>
<rect x="2222.0" y="900" width="2" height="34" fill="#62b072"/>
<rect x="2214.5" y="900.5" width="17" height="29.0" fill="#6eb57a" stroke="#62b072" stroke-width="1"/>
<rect x="2246.0" y="868" width="2" height="40" fill="#62b072"/>
<rect x="2238.5" y="890.5" width="17" height="9.0" fill="#6eb57a" stroke="#62b072" stroke-width="1"/>
<rect x="2270.0" y="856" width="2" height="38" fill="#62b072"/>
<rect x="2262.5" y="872.5" width="17" height="17.0" fill="#6eb57a" stroke="#62b072" stroke-width="1"/>
<rect x="2294.0" y="868" width="2" height="20" fill="#dc6259"/>
<rect x="2286.0" y="872.0" width="18" height="2.0" fill="#dc6259"/>
<rect x="2318.0" y="816" width="2" height="62" fill="#62b072"/>
<rect x="2310.5" y="818.5" width="17" height="53.0" fill="#6eb57a" stroke="#62b072" stroke-width="1"/>
<rect x="2342.0" y="784" width="2" height="50" fill="#62b072"/>
<rect x="2334.5" y="788.5" width="17" height="29.0" fill="#6eb57a" stroke="#62b072" stroke-width="1"/>
<rect x="2366.0" y="674" width="2" height="136" fill="#62b072"/>
<rect x="2358.5" y="714.5" width="17" height="73.0" fill="#6eb57a" stroke="#62b072" stroke-width="1"/>
<rect x="2390.0" y="706" width="2" height="44" fill="#dc6259"/>
<rect x="2382.0" y="716.0" width="18" height="2.0" fill="#dc6259"/>
<rect x="2414.0" y="710" width="2" height="36" fill="#dc6259"/>
<rect x="2406.5" y="716.5" width="17" height="23.0" fill="#df6e67" stroke="#dc6259" stroke-width="1"/>
<rect x="2438.0" y="714" width="2" height="28" fill="#62b072"/>
<rect x="2430.5" y="722.5" width="17" height="17.0" fill="#6eb57a" stroke="#62b072" stroke-width="1"/>
<rect x="2462.0" y="718" width="2" height="52" fill="#dc6259"/>
<rect x="2454.5" y="722.5" width="17" height="41.0" fill="#df6e67" stroke="#dc6259" stroke-width="1"/>
<rect x="2486.0" y="720" width="2" height="62" fill="#62b072"/>
<rect x="2478.5" y="730.5" width="17" height="33.0" fill="#6eb57a" stroke="#62b072" stroke-width="1"/>
<rect x="2510.0" y="696" width="2" height="46" fill="#62b072"/>
<rect x="2502.5" y="712.5" width="17" height="17.0" fill="#6eb57a" stroke="#62b072" stroke-width="1"/>
<rect x="2534.0" y="592" width="2" height="124" fill="#62b072"/>
<rect x="2526.5" y="638.5" width="17" height="73.0" fill="#6eb57a" stroke="#62b072" stroke-width="1"/>
<rect x="2558.0" y="622" width="2" height="48" fill="#dc6259"/>
<rect x="2550.5" y="638.5" width="17" height="15.0" fill="#df6e67" stroke="#dc6259" stroke-width="1"/>
<rect x="2582.0" y="598" width="2" height="66" fill="#62b072"/>
<rect x="2574.5" y="602.5" width="17" height="49.0" fill="#6eb57a" stroke="#62b072" stroke-width="1"/>
<rect x="2606.0" y="504" width="2" height="116" fill="#62b072"/>
<rect x="2598.5" y="538.5" width="17" height="65.0" fill="#6eb57a" stroke="#62b072" stroke-width="1"/>
<rect x="2630.0" y="516" width="2" height="42" fill="#dc6259"/>
<rect x="2622.5" y="536.5" width="17" height="15.0" fill="#df6e67" stroke="#dc6259" stroke-width="1"/>
<rect x="2654.0" y="550" width="2" height="76" fill="#dc6259"/>
<rect x="2646.5" y="554.5" width="17" height="57.0" fill="#df6e67" stroke="#dc6259" stroke-width="1"/>
<rect x="2678.0" y="566" width="2" height="56" fill="#62b072"/>
<rect x="2670.5" y="590.5" width="17" height="21.0" fill="#6eb57a" stroke="#62b072" stroke-width="1"/>
<rect x="2702.0" y="570" width="2" height="40" fill="#dc6259"/>
<rect x="2694.5" y="588.5" width="17" height="13.0" fill="#df6e67" stroke="#dc6259" stroke-width="1"/>
<rect x="2726.0" y="580" width="2" height="32" fill="#dc6259"/>
<rect x="2718.0" y="602.0" width="18" height="2.0" fill="#dc6259"/>
<rect x="2750.0" y="568" width="2" height="38" fill="#62b072"/>
<rect x="2742.5" y="586.5" width="17" height="15.0" fill="#6eb57a" stroke="#62b072" stroke-width="1"/>
<rect x="2774.0" y="532" width="2" height="60" fill="#62b072"/>
<rect x="2766.5" y="540.5" width="17" height="45.0" fill="#6eb57a" stroke="#62b072" stroke-width="1"/>
<rect x="2798.0" y="536" width="2" height="46" fill="#dc6259"/>
<rect x="2790.5" y="538.5" width="17" height="35.0" fill="#df6e67" stroke="#dc6259" stroke-width="1"/>
<rect x="2822.0" y="574" width="2" height="48" fill="#dc6259"/>
<rect x="2814.5" y="574.5" width="17" height="39.0" fill="#df6e67" stroke="#dc6259" stroke-width="1"/>
<rect x="2846.0" y="614" width="2" height="74" fill="#dc6259"/>
<rect x="2838.5" y="614.5" width="17" height="39.0" fill="#df6e67" stroke="#dc6259" stroke-width="1"/>
<rect x="2870.0" y="598" width="2" height="64" fill="#62b072"/>
<rect x="2862.5" y="612.5" width="17" height="41.0" fill="#6eb57a" stroke="#62b072" stroke-width="1"/>
<rect x="2894.0" y="610" width="2" height="28" fill="#dc6259"/>
<rect x="2886.5" y="612.5" width="17" height="13.0" fill="#df6e67" stroke="#dc6259" stroke-width="1"/>
<rect x="2918.0" y="568" width="2" height="64" fill="#62b072"/>
<rect x="2910.5" y="578.5" width="17" height="47.0" fill="#6eb57a" stroke="#62b072" stroke-width="1"/>
<rect x="2942.0" y="484" width="2" height="112" fill="#62b072"/>
<rect x="2934.5" y="514.5" width="17" height="63.0" fill="#6eb57a" stroke="#62b072" stroke-width="1"/>
<rect x="2966.0" y="510" width="2" height="32" fill="#dc6259"/>
<rect x="2958.5" y="512.5" width="17" height="23.0" fill="#df6e67" stroke="#dc6259" stroke-width="1"/>
<rect x="2990.0" y="510" width="2" height="62" fill="#62b072"/>
<rect x="2982.5" y="528.5" width="17" height="7.0" fill="#6eb57a" stroke="#62b072" stroke-width="1"/>
<rect x="3014.0" y="514" width="2" height="36" fill="#dc6259"/>
<rect x="3006.5" y="528.5" width="17" height="15.0" fill="#df6e67" stroke="#dc6259" stroke-width="1"/>
<rect x="3038.0" y="510" width="2" height="32" fill="#62b072"/>
<rect x="3030.5" y="514.5" width="17" height="27.0" fill="#6eb57a" stroke="#62b072" stroke-width="1"/>
<rect x="3062.0" y="494" width="2" height="32" fill="#62b072"/>
<rect x="3054.5" y="508.5" width="17" height="7.0" fill="#6eb57a" stroke="#62b072" stroke-width="1"/>
<rect x="3086.0" y="490" width="2" height="50" fill="#dc6259"/>
<rect x="3078.5" y="510.5" width="17" height="13.0" fill="#df6e67" stroke="#dc6259" stroke-width="1"/>
<rect x="3110.0" y="522" width="2" height="44" fill="#dc6259"/>
<rect x="3102.5" y="524.5" width="17" height="33.0" fill="#df6e67" stroke="#dc6259" stroke-width="1"/>
<rect x="3134.0" y="556" width="2" height="62" fill="#dc6259"/>
<rect x="3126.5" y="558.5" width="17" height="7.0" fill="#df6e67" stroke="#dc6259" stroke-width="1"/>
<rect x="3158.0" y="562" width="2" height="44" fill="#dc6259"/>
<rect x="3150.5" y="564.5" width="17" height="15.0" fill="#df6e67" stroke="#dc6259" stroke-width="1"/>
<rect x="3182.0" y="576" width="2" height="28" fill="#dc6259"/>
<rect x="3174.5" y="580.5" width="17" height="17.0" fill="#df6e67" stroke="#dc6259" stroke-width="1"/>
<polyline points="39.0,1078.9 63.0,1078.9 87.0,1080.7 111.0,1082.6 135.0,1084.7 159.0,1084.9 183.0,1080.5 207.0,1078.9 231.0,1078.9 255.0,1078.9 279.0,1080.7 303.0,1084.7 327.0,1084.9 351.0,1086.8 375.0,1088.7 399.0,1088.7 423.0,1092.6 447.0,1096.4 471.0,1098.4 495.0,1102.2 519.0,1106.4 543.0,1108.5 567.0,1102.6 591.0,1099.1 615.0,1081.2 639.0,1071.9 663.0,1064.0 687.0,1055.6 711.0,1046.7 735.0,1044.9 759.0,1040.7 783.0,1034.6 807.0,1030.7 831.0,1028.6 855.0,1028.6 879.0,1028.6 903.0,1028.6 927.0,1028.6 951.0,1032.8 975.0,1037.0 999.0,1048.6 1023.0,1053.0 1047.0,1051.2 1071.0,1044.9 1095.0,1028.8 1119.0,1007.1 1143.0,997.8 1167.0,986.9 1191.0,970.9 1215.0,962.5 1239.0,956.7 1263.0,952.7 1287.0,948.7 1311.0,946.9 1335.0,946.9 1359.0,948.7 1383.0,950.8 1407.0,948.7 1431.0,952.7 1455.0,954.6 1479.0,956.7 1503.0,962.5 1527.0,966.9 1551.0,966.9 1575.0,966.9 1599.0,968.8 1623.0,960.6 1647.0,950.6 1671.0,955.0 1695.0,952.9 1719.0,948.7 1743.0,948.6 1767.0,946.7 1791.0,948.6 1815.0,948.6 1839.0,948.6 1863.0,950.7 1887.0,950.7 1911.0,948.6 1935.0,948.6 1959.0,948.6 1983.0,948.6 2007.0,942.5 2031.0,940.7 2055.0,938.6 2079.0,936.7 2103.0,936.7 2127.0,938.8 2151.0,937.0 2175.0,930.4 2199.0,925.1 2223.0,913.7 2247.0,898.3 2271.0,883.9 2295.0,872.2 2319.0,849.1 2343.0,821.1 2367.0,774.5 2391.0,742.8 2415.0,718.3 2439.0,698.5 2463.0,686.4 2487.0,670.6 2511.0,652.9 2535.0,625.2 2559.0,605.4 2583.0,579.3 2607.0,544.8 2631.0,520.4 2655.0,510.6 2679.0,502.4 2703.0,498.7 2727.0,496.8 2751.0,496.6 2775.0,493.1 2799.0,495.0 2823.0,498.9 2847.0,498.9 2871.0,498.9 2895.0,502.7 2919.0,502.7 2943.0,500.8 2967.0,504.5 2991.0,506.8 3015.0,502.9 3039.0,498.9 3063.0,488.9 3087.0,487.0 3111.0,487.0 3135.0,487.0 3159.0,487.0 3183.0,487.0" fill="none" stroke="#ebb030" stroke-width="2.0" stroke-linejoin="round"/>
<polyline points="39.0,1097.0 63.0,1097.0 87.0,1098.7 111.0,1100.5 135.0,1102.6 159.0,1102.6 183.0,1104.7 207.0,1106.6 231.0,1106.6 255.0,1108.7 279.0,1110.8 303.0,1112.4 327.0,1114.5 351.0,1114.5 375.0,1116.6 399.0,1120.3 423.0,1122.4 447.0,1124.3 471.0,1128.5 495.0,1130.6 519.0,1132.5 543.0,1132.5 567.0,1132.5 591.0,1130.6 615.0,1128.7 639.0,1124.8 663.0,1120.8 687.0,1118.9 711.0,1115.0 735.0,1112.9 759.0,1111.0 783.0,1106.8 807.0,1105.0 831.0,1103.1 855.0,1099.1 879.0,1097.0 903.0,1093.3 927.0,1089.1 951.0,1085.2 975.0,1081.2 999.0,1077.0 1023.0,1074.9 1047.0,1072.8 1071.0,1069.1 1095.0,1067.0 1119.0,1060.7 1143.0,1058.9 1167.0,1055.2 1191.0,1049.1 1215.0,1045.2 1239.0,1041.2 1263.0,1037.0 1287.0,1033.1 1311.0,1029.1 1335.0,1024.7 1359.0,1022.8 1383.0,1020.7 1407.0,1016.8 1431.0,1014.9 1455.0,1010.7 1479.0,1008.6 1503.0,1006.7 1527.0,1004.9 1551.0,1002.8 1575.0,1004.9 1599.0,1004.9 1623.0,1002.8 1647.0,998.8 1671.0,1000.7 1695.0,1000.9 1719.0,999.1 1743.0,998.9 1767.0,997.0 1791.0,998.9 1815.0,997.0 1839.0,997.0 1863.0,995.0 1887.0,995.0 1911.0,991.0 1935.0,991.0 1959.0,988.9 1983.0,984.9 2007.0,982.8 2031.0,978.9 2055.0,976.8 2079.0,974.7 2103.0,974.9 2127.0,977.0 2151.0,974.9 2175.0,972.8 2199.0,971.0 2223.0,967.0 2247.0,963.0 2271.0,955.6 2295.0,949.1 2319.0,938.7 2343.0,928.7 2367.0,914.8 2391.0,902.6 2415.0,891.0 2439.0,877.0 2463.0,867.0 2487.0,857.0 2511.0,844.4 2535.0,828.8 2559.0,814.8 2583.0,796.9 2607.0,775.0 2631.0,755.2 2655.0,739.1 2679.0,723.3 2703.0,706.7 2727.0,692.7 2751.0,678.7 2775.0,661.3 2799.0,649.2 2823.0,641.0 2847.0,639.1 2871.0,632.9 2895.0,626.3 2919.0,619.3 2943.0,606.8 2967.0,597.0 2991.0,589.1 3015.0,583.0 3039.0,577.0 3063.0,573.0 3087.0,571.1 3111.0,571.1 3135.0,568.8 3159.0,568.8 3183.0,568.8" fill="none" stroke="#d64972" stroke-width="2.0" stroke-linejoin="round"/>
<polyline points="39.0,1114.8 63.0,1116.6 87.0,1116.8 111.0,1118.9 135.0,1120.8 159.0,1122.7 183.0,1128.7 207.0,1132.5 231.0,1136.6 255.0,1136.6 279.0,1138.5 303.0,1140.6 327.0,1142.5 351.0,1144.1 375.0,1146.2 399.0,1152.3 423.0,1152.3 447.0,1154.3 471.0,1156.2 495.0,1158.1 519.0,1158.5 543.0,1158.5 567.0,1160.4 591.0,1164.6 615.0,1174.8 639.0,1178.8 663.0,1180.7 687.0,1180.7 711.0,1182.8 735.0,1182.8 759.0,1180.9 783.0,1180.9 807.0,1176.7 831.0,1174.8 855.0,1170.9 879.0,1163.2 903.0,1156.9 927.0,1149.2 951.0,1137.1 975.0,1125.0 999.0,1105.0 1023.0,1095.2 1047.0,1092.9 1071.0,1092.9 1095.0,1103.1 1119.0,1117.1 1143.0,1118.9 1167.0,1120.9 1191.0,1126.9 1215.0,1124.8 1239.0,1124.8 1263.0,1120.9 1287.0,1116.9 1311.0,1110.9 1335.0,1102.9 1359.0,1096.9 1383.0,1091.1 1407.0,1082.7 1431.0,1077.1 1455.0,1068.9 1479.0,1060.8 1503.0,1052.9 1527.0,1042.8 1551.0,1040.7 1575.0,1040.7 1599.0,1040.7 1623.0,1044.9 1647.0,1048.9 1671.0,1047.0 1695.0,1047.0 1719.0,1048.9 1743.0,1048.8 1767.0,1046.9 1791.0,1048.8 1815.0,1046.9 1839.0,1042.9 1863.0,1038.7 1887.0,1038.7 1911.0,1032.7 1935.0,1030.8 1959.0,1026.9 1983.0,1022.9 2007.0,1020.8 2031.0,1018.7 2055.0,1012.7 2079.0,1012.7 2103.0,1012.7 2127.0,1012.7 2151.0,1012.7 2175.0,1014.8 2199.0,1016.8 2223.0,1022.9 2247.0,1025.0 2271.0,1026.9 2295.0,1024.8 2319.0,1030.9 2343.0,1036.7 2367.0,1054.9 2391.0,1062.8 2415.0,1060.7 2439.0,1057.0 2463.0,1049.1 2487.0,1042.8 2511.0,1034.9 2535.0,1032.8 2559.0,1022.7 2583.0,1012.7 2607.0,1006.3 2631.0,988.8 2655.0,966.7 2679.0,937.6 2703.0,912.0 2727.0,886.3 2751.0,860.7 2775.0,828.8 2799.0,804.8 2823.0,782.7 2847.0,776.9 2871.0,767.1 2895.0,749.8 2919.0,737.0 2943.0,711.4 2967.0,689.2 2991.0,671.1 3015.0,665.0 3039.0,655.0 3063.0,655.0 3087.0,655.0 3111.0,655.0 3135.0,651.0 3159.0,651.0 3183.0,651.0" fill="none" stroke="#ba4ad2" stroke-width="2.0" stroke-linejoin="round"/>
<text x="2826" y="491.500" fill="#555">139.687</text><path d="M2921 483 H2934 M2929 477.500 L2934.500 483 L2929 488.500" fill="none" stroke="#555" stroke-width="2"/>
<path d="M421 1159.500 H408 M413 1154 L407.500 1159.500 L413 1165" fill="none" stroke="#555" stroke-width="2"/><text x="430" y="1168" fill="#555">73.400</text>
<rect x="0" y="1208" width="3358" height="2" fill="#bdbdbd"/>
<rect x="0" y="1435.5" width="3358" height="2" fill="#bdbdbd"/>
<rect x="0" y="1689.5" width="3358" height="2" fill="#bdbdbd"/>
<rect x="3208" y="345" width="2" height="1345" fill="#bdbdbd"/>
<rect x="30.5" y="1414.5" width="17" height="12.0" fill="#6eb57a" stroke="#62b072" stroke-width="1"/>
<rect x="54.5" y="1389.5" width="17" height="37.0" fill="#df6e67" stroke="#dc6259" stroke-width="1"/>
<rect x="78.5" y="1418.5" width="17" height="8.0" fill="#df6e67" stroke="#dc6259" stroke-width="1"/>
<rect x="102.5" y="1409.5" width="17" height="17.0" fill="#df6e67" stroke="#dc6259" stroke-width="1"/>
<rect x="126.5" y="1409.5" width="17" height="17.0" fill="#6eb57a" stroke="#62b072" stroke-width="1"/>
<rect x="150.5" y="1409.5" width="17" height="17.0" fill="#df6e67" stroke="#dc6259" stroke-width="1"/>
<rect x="174.5" y="1414.5" width="17" height="12.0" fill="#df6e67" stroke="#dc6259" stroke-width="1"/>
<rect x="198.5" y="1405.5" width="17" height="21.0" fill="#6eb57a" stroke="#62b072" stroke-width="1"/>
<rect x="222.5" y="1405.5" width="17" height="21.0" fill="#6eb57a" stroke="#62b072" stroke-width="1"/>
<rect x="246.5" y="1404.5" width="17" height="22.0" fill="#6eb57a" stroke="#62b072" stroke-width="1"/>
<rect x="270.5" y="1409.5" width="17" height="17.0" fill="#df6e67" stroke="#dc6259" stroke-width="1"/>
<rect x="294.5" y="1400.5" width="17" height="26.0" fill="#df6e67" stroke="#dc6259" stroke-width="1"/>
<rect x="318.5" y="1407.5" width="17" height="19.0" fill="#df6e67" stroke="#dc6259" stroke-width="1"/>
<rect x="342.5" y="1409.5" width="17" height="17.0" fill="#6eb57a" stroke="#62b072" stroke-width="1"/>
<rect x="366.5" y="1402.5" width="17" height="24.0" fill="#df6e67" stroke="#dc6259" stroke-width="1"/>
<rect x="390.5" y="1386.5" width="17" height="40.0" fill="#df6e67" stroke="#dc6259" stroke-width="1"/>
<rect x="414.5" y="1405.5" width="17" height="21.0" fill="#6eb57a" stroke="#62b072" stroke-width="1"/>
<rect x="438.5" y="1409.5" width="17" height="17.0" fill="#df6e67" stroke="#dc6259" stroke-width="1"/>
<rect x="462.5" y="1398.5" width="17" height="28.0" fill="#df6e67" stroke="#dc6259" stroke-width="1"/>
<rect x="486.5" y="1409.5" width="17" height="17.0" fill="#6eb57a" stroke="#62b072" stroke-width="1"/>
<rect x="510.5" y="1414.5" width="17" height="12.0" fill="#df6e67" stroke="#dc6259" stroke-width="1"/>
<rect x="534.5" y="1359.5" width="17" height="67.0" fill="#6eb57a" stroke="#62b072" stroke-width="1"/>
<rect x="558.5" y="1372.5" width="17" height="54.0" fill="#6eb57a" stroke="#62b072" stroke-width="1"/>
<rect x="582.5" y="1394.5" width="17" height="32.0" fill="#df6e67" stroke="#dc6259" stroke-width="1"/>
<rect x="606.5" y="1352.5" width="17" height="74.0" fill="#6eb57a" stroke="#62b072" stroke-width="1"/>
<rect x="630.5" y="1366.5" width="17" height="60.0" fill="#df6e67" stroke="#dc6259" stroke-width="1"/>
<rect x="654.5" y="1404.5" width="17" height="22.0" fill="#df6e67" stroke="#dc6259" stroke-width="1"/>
<rect x="678.5" y="1400.5" width="17" height="26.0" fill="#df6e67" stroke="#dc6259" stroke-width="1"/>
<rect x="702.5" y="1404.5" width="17" height="22.0" fill="#6eb57a" stroke="#62b072" stroke-width="1"/>
<rect x="726.5" y="1402.5" width="17" height="24.0" fill="#df6e67" stroke="#dc6259" stroke-width="1"/>
<rect x="750.5" y="1407.5" width="17" height="19.0" fill="#6eb57a" stroke="#62b072" stroke-width="1"/>
<rect x="774.5" y="1405.5" width="17" height="21.0" fill="#6eb57a" stroke="#62b072" stroke-width="1"/>
<rect x="798.5" y="1400.5" width="17" height="26.0" fill="#6eb57a" stroke="#62b072" stroke-width="1"/>
<rect x="822.5" y="1389.5" width="17" height="37.0" fill="#df6e67" stroke="#dc6259" stroke-width="1"/>
<rect x="846.5" y="1398.5" width="17" height="28.0" fill="#6eb57a" stroke="#62b072" stroke-width="1"/>
<rect x="870.5" y="1409.5" width="17" height="17.0" fill="#6eb57a" stroke="#62b072" stroke-width="1"/>
<rect x="894.5" y="1404.5" width="17" height="22.0" fill="#6eb57a" stroke="#62b072" stroke-width="1"/>
<rect x="918.5" y="1396.5" width="17" height="30.0" fill="#6eb57a" stroke="#62b072" stroke-width="1"/>
<rect x="942.5" y="1407.5" width="17" height="19.0" fill="#6eb57a" stroke="#62b072" stroke-width="1"/>
<rect x="966.5" y="1405.5" width="17" height="21.0" fill="#df6e67" stroke="#dc6259" stroke-width="1"/>
<rect x="990.5" y="1405.5" width="17" height="21.0" fill="#6eb57a" stroke="#62b072" stroke-width="1"/>
<rect x="1014.5" y="1396.5" width="17" height="30.0" fill="#df6e67" stroke="#dc6259" stroke-width="1"/>
<rect x="1038.5" y="1382.5" width="17" height="44.0" fill="#6eb57a" stroke="#62b072" stroke-width="1"/>
<rect x="1062.5" y="1382.5" width="17" height="44.0" fill="#6eb57a" stroke="#62b072" stroke-width="1"/>
<rect x="1086.5" y="1350.5" width="17" height="76.0" fill="#6eb57a" stroke="#62b072" stroke-width="1"/>
<rect x="1110.5" y="1340.5" width="17" height="86.0" fill="#6eb57a" stroke="#62b072" stroke-width="1"/>
<rect x="1134.5" y="1370.5" width="17" height="56.0" fill="#df6e67" stroke="#dc6259" stroke-width="1"/>
<rect x="1158.5" y="1384.5" width="17" height="42.0" fill="#6eb57a" stroke="#62b072" stroke-width="1"/>
<rect x="1182.5" y="1391.5" width="17" height="35.0" fill="#6eb57a" stroke="#62b072" stroke-width="1"/>
<rect x="1206.5" y="1372.5" width="17" height="54.0" fill="#df6e67" stroke="#dc6259" stroke-width="1"/>
<rect x="1230.5" y="1404.5" width="17" height="22.0" fill="#df6e67" stroke="#dc6259" stroke-width="1"/>
<rect x="1254.5" y="1412.5" width="17" height="14.0" fill="#df6e67" stroke="#dc6259" stroke-width="1"/>
<rect x="1278.5" y="1402.5" width="17" height="24.0" fill="#df6e67" stroke="#dc6259" stroke-width="1"/>
<rect x="1302.5" y="1386.5" width="17" height="40.0" fill="#6eb57a" stroke="#62b072" stroke-width="1"/>
<rect x="1326.5" y="1402.5" width="17" height="24.0" fill="#df6e67" stroke="#dc6259" stroke-width="1"/>
<rect x="1350.5" y="1375.5" width="17" height="51.0" fill="#df6e67" stroke="#dc6259" stroke-width="1"/>
<rect x="1374.5" y="1388.5" width="17" height="38.0" fill="#df6e67" stroke="#dc6259" stroke-width="1"/>
<rect x="1398.5" y="1368.5" width="17" height="58.0" fill="#6eb57a" stroke="#62b072" stroke-width="1"/>
<rect x="1422.5" y="1380.5" width="17" height="46.0" fill="#df6e67" stroke="#dc6259" stroke-width="1"/>
<rect x="1446.5" y="1380.5" width="17" height="46.0" fill="#6eb57a" stroke="#62b072" stroke-width="1"/>
<rect x="1470.5" y="1398.5" width="17" height="28.0" fill="#df6e67" stroke="#dc6259" stroke-width="1"/>
<rect x="1494.5" y="1386.5" width="17" height="40.0" fill="#df6e67" stroke="#dc6259" stroke-width="1"/>
<rect x="1518.5" y="1400.5" width="17" height="26.0" fill="#6eb57a" stroke="#62b072" stroke-width="1"/>
<rect x="1542.5" y="1398.5" width="17" height="28.0" fill="#6eb57a" stroke="#62b072" stroke-width="1"/>
<rect x="1566.5" y="1402.5" width="17" height="24.0" fill="#df6e67" stroke="#dc6259" stroke-width="1"/>
<rect x="1590.5" y="1391.5" width="17" height="35.0" fill="#6eb57a" stroke="#62b072" stroke-width="1"/>
<rect x="1614.5" y="1350.5" width="17" height="76.0" fill="#6eb57a" stroke="#62b072" stroke-width="1"/>
<rect x="1638.5" y="1361.5" width="17" height="65.0" fill="#6eb57a" stroke="#62b072" stroke-width="1"/>
<rect x="1662.5" y="1370.5" width="17" height="56.0" fill="#df6e67" stroke="#dc6259" stroke-width="1"/>
<rect x="1686.5" y="1331.5" width="17" height="95.0" fill="#6eb57a" stroke="#62b072" stroke-width="1"/>
<rect x="1710.5" y="1354.5" width="17" height="72.0" fill="#6eb57a" stroke="#62b072" stroke-width="1"/>
<rect x="1734.5" y="1377.5" width="17" height="49.0" fill="#df6e67" stroke="#dc6259" stroke-width="1"/>
<rect x="1758.5" y="1388.5" width="17" height="38.0" fill="#df6e67" stroke="#dc6259" stroke-width="1"/>
<rect x="1782.5" y="1359.5" width="17" height="67.0" fill="#df6e67" stroke="#dc6259" stroke-width="1"/>
<rect x="1806.5" y="1404.5" width="17" height="22.0" fill="#6eb57a" stroke="#62b072" stroke-width="1"/>
<rect x="1830.5" y="1404.5" width="17" height="22.0" fill="#df6e67" stroke="#dc6259" stroke-width="1"/>
<rect x="1854.5" y="1409.5" width="17" height="17.0" fill="#6eb57a" stroke="#62b072" stroke-width="1"/>
<rect x="1878.5" y="1409.5" width="17" height="17.0" fill="#6eb57a" stroke="#62b072" stroke-width="1"/>
<rect x="1902.5" y="1414.5" width="17" height="12.0" fill="#6eb57a" stroke="#62b072" stroke-width="1"/>
<rect x="1926.5" y="1405.5" width="17" height="21.0" fill="#df6e67" stroke="#dc6259" stroke-width="1"/>
<rect x="1950.5" y="1407.5" width="17" height="19.0" fill="#6eb57a" stroke="#62b072" stroke-width="1"/>
<rect x="1974.5" y="1377.5" width="17" height="49.0" fill="#6eb57a" stroke="#62b072" stroke-width="1"/>
<rect x="1998.5" y="1405.5" width="17" height="21.0" fill="#6eb57a" stroke="#62b072" stroke-width="1"/>
<rect x="2022.5" y="1402.5" width="17" height="24.0" fill="#df6e67" stroke="#dc6259" stroke-width="1"/>
<rect x="2046.5" y="1396.5" width="17" height="30.0" fill="#6eb57a" stroke="#62b072" stroke-width="1"/>
<rect x="2070.5" y="1402.5" width="17" height="24.0" fill="#6eb57a" stroke="#62b072" stroke-width="1"/>
<rect x="2094.5" y="1407.5" width="17" height="19.0" fill="#df6e67" stroke="#dc6259" stroke-width="1"/>
<rect x="2118.5" y="1420.5" width="17" height="6.0" fill="#6eb57a" stroke="#62b072" stroke-width="1"/>
<rect x="2142.5" y="1405.5" width="17" height="21.0" fill="#6eb57a" stroke="#62b072" stroke-width="1"/>
<rect x="2166.5" y="1375.5" width="17" height="51.0" fill="#6eb57a" stroke="#62b072" stroke-width="1"/>
<rect x="2190.5" y="1389.5" width="17" height="37.0" fill="#6eb57a" stroke="#62b072" stroke-width="1"/>
<rect x="2214.5" y="1380.5" width="17" height="46.0" fill="#6eb57a" stroke="#62b072" stroke-width="1"/>
<rect x="2238.5" y="1344.5" width="17" height="82.0" fill="#6eb57a" stroke="#62b072" stroke-width="1"/>
<rect x="2262.5" y="1374.5" width="17" height="52.0" fill="#6eb57a" stroke="#62b072" stroke-width="1"/>
<rect x="2286.5" y="1407.5" width="17" height="19.0" fill="#df6e67" stroke="#dc6259" stroke-width="1"/>
<rect x="2310.5" y="1374.5" width="17" height="52.0" fill="#6eb57a" stroke="#62b072" stroke-width="1"/>
<rect x="2334.5" y="1344.5" width="17" height="82.0" fill="#6eb57a" stroke="#62b072" stroke-width="1"/>
<rect x="2358.5" y="1248.5" width="17" height="178.0" fill="#6eb57a" stroke="#62b072" stroke-width="1"/>
<rect x="2382.5" y="1356.5" width="17" height="70.0" fill="#df6e67" stroke="#dc6259" stroke-width="1"/>
<rect x="2406.5" y="1388.5" width="17" height="38.0" fill="#df6e67" stroke="#dc6259" stroke-width="1"/>
<rect x="2430.5" y="1396.5" width="17" height="30.0" fill="#6eb57a" stroke="#62b072" stroke-width="1"/>
<rect x="2454.5" y="1380.5" width="17" height="46.0" fill="#df6e67" stroke="#dc6259" stroke-width="1"/>
<rect x="2478.5" y="1386.5" width="17" height="40.0" fill="#6eb57a" stroke="#62b072" stroke-width="1"/>
<rect x="2502.5" y="1386.5" width="17" height="40.0" fill="#6eb57a" stroke="#62b072" stroke-width="1"/>
<rect x="2526.5" y="1331.5" width="17" height="95.0" fill="#6eb57a" stroke="#62b072" stroke-width="1"/>
<rect x="2550.5" y="1342.5" width="17" height="84.0" fill="#df6e67" stroke="#dc6259" stroke-width="1"/>
<rect x="2574.5" y="1372.5" width="17" height="54.0" fill="#6eb57a" stroke="#62b072" stroke-width="1"/>
<rect x="2598.5" y="1329.5" width="17" height="97.0" fill="#6eb57a" stroke="#62b072" stroke-width="1"/>
<rect x="2622.5" y="1358.5" width="17" height="68.0" fill="#df6e67" stroke="#dc6259" stroke-width="1"/>
<rect x="2646.5" y="1314.5" width="17" height="112.0" fill="#df6e67" stroke="#dc6259" stroke-width="1"/>
<rect x="2670.5" y="1366.5" width="17" height="60.0" fill="#6eb57a" stroke="#62b072" stroke-width="1"/>
<rect x="2694.5" y="1382.5" width="17" height="44.0" fill="#df6e67" stroke="#dc6259" stroke-width="1"/>
<rect x="2718.5" y="1380.5" width="17" height="46.0" fill="#df6e67" stroke="#dc6259" stroke-width="1"/>
<rect x="2742.5" y="1374.5" width="17" height="52.0" fill="#6eb57a" stroke="#62b072" stroke-width="1"/>
<rect x="2766.5" y="1368.5" width="17" height="58.0" fill="#6eb57a" stroke="#62b072" stroke-width="1"/>
<rect x="2790.5" y="1382.5" width="17" height="44.0" fill="#df6e67" stroke="#dc6259" stroke-width="1"/>
<rect x="2814.5" y="1354.5" width="17" height="72.0" fill="#df6e67" stroke="#dc6259" stroke-width="1"/>
<rect x="2838.5" y="1315.5" width="17" height="111.0" fill="#df6e67" stroke="#dc6259" stroke-width="1"/>
<rect x="2862.5" y="1361.5" width="17" height="65.0" fill="#6eb57a" stroke="#62b072" stroke-width="1"/>
<rect x="2886.5" y="1389.5" width="17" height="37.0" fill="#df6e67" stroke="#dc6259" stroke-width="1"/>
<rect x="2910.5" y="1361.5" width="17" height="65.0" fill="#6eb57a" stroke="#62b072" stroke-width="1"/>
<rect x="2934.5" y="1314.5" width="17" height="112.0" fill="#6eb57a" stroke="#62b072" stroke-width="1"/>
<rect x="2958.5" y="1380.5" width="17" height="46.0" fill="#df6e67" stroke="#dc6259" stroke-width="1"/>
<rect x="2982.5" y="1377.5" width="17" height="49.0" fill="#6eb57a" stroke="#62b072" stroke-width="1"/>
<rect x="3006.5" y="1404.5" width="17" height="22.0" fill="#df6e67" stroke="#dc6259" stroke-width="1"/>
<rect x="3030.5" y="1405.5" width="17" height="21.0" fill="#6eb57a" stroke="#62b072" stroke-width="1"/>
<rect x="3054.5" y="1404.5" width="17" height="22.0" fill="#6eb57a" stroke="#62b072" stroke-width="1"/>
<rect x="3078.5" y="1396.5" width="17" height="30.0" fill="#df6e67" stroke="#dc6259" stroke-width="1"/>
<rect x="3102.5" y="1388.5" width="17" height="38.0" fill="#df6e67" stroke="#dc6259" stroke-width="1"/>
<rect x="3126.5" y="1354.5" width="17" height="72.0" fill="#df6e67" stroke="#dc6259" stroke-width="1"/>
<rect x="3150.5" y="1389.5" width="17" height="37.0" fill="#df6e67" stroke="#dc6259" stroke-width="1"/>
<rect x="3174.5" y="1409.5" width="17" height="17.0" fill="#df6e67" stroke="#dc6259" stroke-width="1"/>
<polyline points="39.0,1409.1 63.0,1405.8 87.0,1407.5 111.0,1407.9 135.0,1408.2 159.0,1407.2 183.0,1412.1 207.0,1409.7 231.0,1408.9 255.0,1407.8 279.0,1407.8 303.0,1405.0 327.0,1405.4 351.0,1406.1 375.0,1405.7 399.0,1401.0 423.0,1402.2 447.0,1402.6 471.0,1400.3 495.0,1401.9 519.0,1407.5 543.0,1398.3 567.0,1390.7 591.0,1390.0 615.0,1378.4 639.0,1368.8 663.0,1377.6 687.0,1383.2 711.0,1385.2 735.0,1395.2 759.0,1403.5 783.0,1403.9 807.0,1403.9 831.0,1401.1 855.0,1400.3 879.0,1400.7 903.0,1400.3 927.0,1399.6 951.0,1403.1 975.0,1404.7 999.0,1403.9 1023.0,1402.4 1047.0,1399.6 1071.0,1394.4 1095.0,1383.2 1119.0,1370.1 1143.0,1364.9 1167.0,1365.2 1191.0,1367.2 1215.0,1371.6 1239.0,1384.4 1263.0,1392.8 1287.0,1396.4 1311.0,1395.2 1335.0,1401.2 1359.0,1395.6 1383.0,1390.7 1407.0,1384.0 1431.0,1382.8 1455.0,1378.4 1479.0,1382.9 1503.0,1382.5 1527.0,1388.9 1551.0,1392.4 1575.0,1396.8 1599.0,1395.6 1623.0,1388.4 1647.0,1380.8 1671.0,1375.2 1695.0,1361.1 1719.0,1353.6 1743.0,1359.1 1767.0,1364.3 1791.0,1362.3 1815.0,1376.7 1839.0,1386.7 1863.0,1393.1 1887.0,1397.5 1911.0,1408.3 1935.0,1408.7 1959.0,1409.5 1983.0,1403.1 2007.0,1402.3 2031.0,1399.9 2055.0,1397.9 2079.0,1396.7 2103.0,1402.7 2127.0,1405.6 2151.0,1406.3 2175.0,1402.3 2199.0,1399.9 2223.0,1394.3 2247.0,1379.1 2271.0,1372.7 2295.0,1379.1 2319.0,1375.9 2343.0,1368.7 2367.0,1349.5 2391.0,1345.9 2415.0,1342.0 2439.0,1346.4 2463.0,1353.6 2487.0,1381.2 2511.0,1387.2 2535.0,1376.0 2559.0,1365.2 2583.0,1363.6 2607.0,1352.3 2631.0,1346.7 2655.0,1343.1 2679.0,1348.0 2703.0,1350.0 2727.0,1360.0 2751.0,1363.2 2775.0,1374.1 2799.0,1377.2 2823.0,1371.6 2847.0,1358.8 2871.0,1356.4 2895.0,1360.7 2919.0,1356.7 2943.0,1348.7 2967.0,1361.5 2991.0,1364.7 3015.0,1367.5 3039.0,1376.3 3063.0,1394.3 3087.0,1397.5 3111.0,1399.6 3135.0,1389.6 3159.0,1386.4 3183.0,1387.6" fill="none" stroke="#d64972" stroke-width="2" stroke-linejoin="round"/>
<polyline points="39.0,1408.4 63.0,1406.6 87.0,1407.5 111.0,1407.9 135.0,1408.1 159.0,1408.2 183.0,1409.0 207.0,1408.6 231.0,1408.4 255.0,1408.0 279.0,1407.5 303.0,1408.6 327.0,1407.5 351.0,1407.5 375.0,1406.8 399.0,1404.4 423.0,1403.6 447.0,1404.0 471.0,1403.2 495.0,1403.8 519.0,1404.2 543.0,1400.2 567.0,1396.7 591.0,1395.2 615.0,1390.2 639.0,1388.2 663.0,1388.0 687.0,1387.0 711.0,1387.6 735.0,1386.8 759.0,1386.2 783.0,1390.8 807.0,1393.6 831.0,1393.2 855.0,1397.8 879.0,1402.1 903.0,1402.1 927.0,1401.7 951.0,1402.1 975.0,1402.5 999.0,1402.3 1023.0,1401.3 1047.0,1399.6 1071.0,1398.8 1095.0,1394.0 1119.0,1387.0 1143.0,1383.6 1167.0,1382.4 1191.0,1380.8 1215.0,1377.4 1239.0,1377.2 1263.0,1378.8 1287.0,1380.8 1311.0,1381.2 1335.0,1386.4 1359.0,1390.0 1383.0,1391.8 1407.0,1390.2 1431.0,1389.0 1455.0,1389.8 1479.0,1389.2 1503.0,1386.6 1527.0,1386.4 1551.0,1387.6 1575.0,1387.6 1599.0,1389.2 1623.0,1385.4 1647.0,1384.8 1671.0,1383.8 1695.0,1379.0 1719.0,1374.6 1743.0,1373.8 1767.0,1372.6 1791.0,1368.7 1815.0,1368.9 1839.0,1370.1 1863.0,1376.1 1887.0,1380.9 1911.0,1385.3 1935.0,1392.7 1959.0,1398.1 1983.0,1398.1 2007.0,1399.9 2031.0,1404.1 2055.0,1403.3 2079.0,1403.1 2103.0,1402.9 2127.0,1403.9 2151.0,1403.1 2175.0,1400.1 2199.0,1398.3 2223.0,1398.5 2247.0,1392.3 2271.0,1389.5 2295.0,1390.7 2319.0,1387.9 2343.0,1381.5 2367.0,1364.3 2391.0,1359.3 2415.0,1360.6 2439.0,1361.2 2463.0,1361.2 2487.0,1365.4 2511.0,1366.6 2535.0,1359.0 2559.0,1355.8 2583.0,1358.6 2607.0,1366.8 2631.0,1367.0 2655.0,1359.6 2679.0,1356.6 2703.0,1356.8 2727.0,1356.2 2751.0,1355.0 2775.0,1358.6 2799.0,1362.6 2823.0,1360.8 2847.0,1359.4 2871.0,1359.8 2895.0,1367.4 2919.0,1367.0 2943.0,1360.2 2967.0,1360.2 2991.0,1360.6 3015.0,1364.1 3039.0,1366.5 3063.0,1371.5 3087.0,1379.5 3111.0,1382.1 3135.0,1378.6 3159.0,1381.4 3183.0,1390.9" fill="none" stroke="#ebb030" stroke-width="2" stroke-linejoin="round"/>
<rect x="30.0" y="1576.1" width="18" height="2.0" fill="#62b072"/>
<rect x="54.5" y="1578.6" width="17" height="2.8" fill="#df6e67" stroke="#dc6259" stroke-width="1"/>
<rect x="78.5" y="1578.6" width="17" height="4.0" fill="#df6e67" stroke="#dc6259" stroke-width="1"/>
<rect x="102.5" y="1578.6" width="17" height="5.6" fill="#df6e67" stroke="#dc6259" stroke-width="1"/>
<rect x="126.5" y="1578.6" width="17" height="6.0" fill="#df6e67" stroke="#dc6259" stroke-width="1"/>
<rect x="150.5" y="1578.6" width="17" height="6.6" fill="#df6e67" stroke="#dc6259" stroke-width="1"/>
<rect x="174.5" y="1578.6" width="17" height="8.0" fill="#df6e67" stroke="#dc6259" stroke-width="1"/>
<rect x="198.5" y="1578.6" width="17" height="8.1" fill="#df6e67" stroke="#dc6259" stroke-width="1"/>
<rect x="223.0" y="1579.1" width="16" height="6.6" fill="#fff" stroke="#dc6259" stroke-width="2"/>
<rect x="247.0" y="1579.1" width="16" height="4.1" fill="#fff" stroke="#dc6259" stroke-width="2"/>
<rect x="271.0" y="1579.1" width="16" height="2.9" fill="#fff" stroke="#dc6259" stroke-width="2"/>
<rect x="295.0" y="1579.1" width="16" height="2.3" fill="#fff" stroke="#dc6259" stroke-width="2"/>
<rect x="319.0" y="1579.1" width="16" height="2.2" fill="#fff" stroke="#dc6259" stroke-width="2"/>
<rect x="342.5" y="1578.6" width="17" height="2.0" fill="#df6e67" stroke="#dc6259" stroke-width="1"/>
<rect x="366.5" y="1578.6" width="17" height="2.3" fill="#df6e67" stroke="#dc6259" stroke-width="1"/>
<rect x="390.5" y="1578.6" width="17" height="4.4" fill="#df6e67" stroke="#dc6259" stroke-width="1"/>
<rect x="415.0" y="1579.1" width="16" height="2.4" fill="#fff" stroke="#dc6259" stroke-width="2"/>
<rect x="439.0" y="1579.1" width="16" height="2.2" fill="#fff" stroke="#dc6259" stroke-width="2"/>
<rect x="462.5" y="1578.6" width="17" height="3.3" fill="#df6e67" stroke="#dc6259" stroke-width="1"/>
<rect x="486.5" y="1578.6" width="17" height="2.8" fill="#df6e67" stroke="#dc6259" stroke-width="1"/>
<rect x="510.5" y="1578.6" width="17" height="2.9" fill="#df6e67" stroke="#dc6259" stroke-width="1"/>
<rect x="535.0" y="1573.2" width="16" height="3.9" fill="#fff" stroke="#62b072" stroke-width="2"/>
<rect x="559.0" y="1566.7" width="16" height="10.4" fill="#fff" stroke="#62b072" stroke-width="2"/>
<rect x="583.0" y="1563.5" width="16" height="13.6" fill="#fff" stroke="#62b072" stroke-width="2"/>
<rect x="607.0" y="1555.9" width="16" height="21.2" fill="#fff" stroke="#62b072" stroke-width="2"/>
<rect x="631.0" y="1553.2" width="16" height="23.9" fill="#fff" stroke="#62b072" stroke-width="2"/>
<rect x="654.5" y="1553.0" width="17" height="24.6" fill="#6eb57a" stroke="#62b072" stroke-width="1"/>
<rect x="678.5" y="1554.6" width="17" height="23.0" fill="#6eb57a" stroke="#62b072" stroke-width="1"/>
<rect x="702.5" y="1555.2" width="17" height="22.4" fill="#6eb57a" stroke="#62b072" stroke-width="1"/>
<rect x="726.5" y="1560.4" width="17" height="17.2" fill="#6eb57a" stroke="#62b072" stroke-width="1"/>
<rect x="750.5" y="1563.2" width="17" height="14.4" fill="#6eb57a" stroke="#62b072" stroke-width="1"/>
<rect x="774.5" y="1565.2" width="17" height="12.4" fill="#6eb57a" stroke="#62b072" stroke-width="1"/>
<rect x="798.5" y="1566.9" width="17" height="10.7" fill="#6eb57a" stroke="#62b072" stroke-width="1"/>
<rect x="822.5" y="1571.5" width="17" height="6.1" fill="#6eb57a" stroke="#62b072" stroke-width="1"/>
<rect x="846.5" y="1574.0" width="17" height="3.6" fill="#6eb57a" stroke="#62b072" stroke-width="1"/>
<rect x="870.5" y="1575.6" width="17" height="2.0" fill="#6eb57a" stroke="#62b072" stroke-width="1"/>
<rect x="894.0" y="1575.2" width="18" height="2.9" fill="#62b072"/>
<rect x="918.0" y="1575.3" width="18" height="2.8" fill="#62b072"/>
<rect x="942.0" y="1575.6" width="18" height="2.5" fill="#62b072"/>
<rect x="966.0" y="1578.1" width="18" height="2.1" fill="#dc6259"/>
<rect x="990.0" y="1575.8" width="18" height="2.3" fill="#62b072"/>
<rect x="1014.0" y="1578.1" width="18" height="2.1" fill="#dc6259"/>
<rect x="1038.5" y="1575.5" width="17" height="2.1" fill="#6eb57a" stroke="#62b072" stroke-width="1"/>
<rect x="1063.0" y="1572.3" width="16" height="4.8" fill="#fff" stroke="#62b072" stroke-width="2"/>
<rect x="1087.0" y="1566.2" width="16" height="10.9" fill="#fff" stroke="#62b072" stroke-width="2"/>
<rect x="1111.0" y="1559.3" width="16" height="17.8" fill="#fff" stroke="#62b072" stroke-width="2"/>
<rect x="1134.5" y="1559.2" width="17" height="18.4" fill="#6eb57a" stroke="#62b072" stroke-width="1"/>
<rect x="1158.5" y="1559.4" width="17" height="18.2" fill="#6eb57a" stroke="#62b072" stroke-width="1"/>
<rect x="1183.0" y="1557.4" width="16" height="19.7" fill="#fff" stroke="#62b072" stroke-width="2"/>
<rect x="1206.5" y="1559.5" width="17" height="18.1" fill="#6eb57a" stroke="#62b072" stroke-width="1"/>
<rect x="1230.5" y="1562.7" width="17" height="14.9" fill="#6eb57a" stroke="#62b072" stroke-width="1"/>
<rect x="1254.5" y="1568.4" width="17" height="9.2" fill="#6eb57a" stroke="#62b072" stroke-width="1"/>
<rect x="1278.5" y="1573.3" width="17" height="4.3" fill="#6eb57a" stroke="#62b072" stroke-width="1"/>
<rect x="1302.5" y="1574.8" width="17" height="2.8" fill="#6eb57a" stroke="#62b072" stroke-width="1"/>
<rect x="1326.5" y="1578.6" width="17" height="4.6" fill="#df6e67" stroke="#dc6259" stroke-width="1"/>
<rect x="1350.5" y="1578.6" width="17" height="9.6" fill="#df6e67" stroke="#dc6259" stroke-width="1"/>
<rect x="1374.5" y="1578.6" width="17" height="13.7" fill="#df6e67" stroke="#dc6259" stroke-width="1"/>
<rect x="1399.0" y="1579.1" width="16" height="9.8" fill="#fff" stroke="#dc6259" stroke-width="2"/>
<rect x="1422.5" y="1578.6" width="17" height="13.8" fill="#df6e67" stroke="#dc6259" stroke-width="1"/>
<rect x="1447.0" y="1579.1" width="16" height="12.3" fill="#fff" stroke="#dc6259" stroke-width="2"/>
<rect x="1471.0" y="1579.1" width="16" height="11.9" fill="#fff" stroke="#dc6259" stroke-width="2"/>
<rect x="1494.5" y="1578.6" width="17" height="13.5" fill="#df6e67" stroke="#dc6259" stroke-width="1"/>
<rect x="1519.0" y="1579.1" width="16" height="10.3" fill="#fff" stroke="#dc6259" stroke-width="2"/>
<rect x="1543.0" y="1579.1" width="16" height="8.2" fill="#fff" stroke="#dc6259" stroke-width="2"/>
<rect x="1567.0" y="1579.1" width="16" height="8.0" fill="#fff" stroke="#dc6259" stroke-width="2"/>
<rect x="1591.0" y="1579.1" width="16" height="3.1" fill="#fff" stroke="#dc6259" stroke-width="2"/>
<rect x="1615.0" y="1573.6" width="16" height="3.5" fill="#fff" stroke="#62b072" stroke-width="2"/>
<rect x="1639.0" y="1568.8" width="16" height="8.3" fill="#fff" stroke="#62b072" stroke-width="2"/>
<rect x="1662.5" y="1570.1" width="17" height="7.5" fill="#6eb57a" stroke="#62b072" stroke-width="1"/>
<rect x="1686.5" y="1571.0" width="17" height="6.6" fill="#6eb57a" stroke="#62b072" stroke-width="1"/>
<rect x="1710.5" y="1571.7" width="17" height="5.9" fill="#6eb57a" stroke="#62b072" stroke-width="1"/>
<rect x="1734.5" y="1575.1" width="17" height="2.5" fill="#6eb57a" stroke="#62b072" stroke-width="1"/>
<rect x="1758.5" y="1578.6" width="17" height="3.2" fill="#df6e67" stroke="#dc6259" stroke-width="1"/>
<rect x="1782.5" y="1578.6" width="17" height="7.0" fill="#df6e67" stroke="#dc6259" stroke-width="1"/>
<rect x="1806.5" y="1578.6" width="17" height="9.0" fill="#df6e67" stroke="#dc6259" stroke-width="1"/>
<rect x="1830.5" y="1578.6" width="17" height="11.1" fill="#df6e67" stroke="#dc6259" stroke-width="1"/>
<rect x="1855.0" y="1579.1" width="16" height="9.8" fill="#fff" stroke="#dc6259" stroke-width="2"/>
<rect x="1879.0" y="1579.1" width="16" height="8.8" fill="#fff" stroke="#dc6259" stroke-width="2"/>
<rect x="1903.0" y="1579.1" width="16" height="5.4" fill="#fff" stroke="#dc6259" stroke-width="2"/>
<rect x="1927.0" y="1579.1" width="16" height="4.8" fill="#fff" stroke="#dc6259" stroke-width="2"/>
<rect x="1951.0" y="1579.1" width="16" height="3.9" fill="#fff" stroke="#dc6259" stroke-width="2"/>
<rect x="1974.0" y="1578.1" width="18" height="2.2" fill="#dc6259"/>
<rect x="1999.0" y="1573.5" width="16" height="3.6" fill="#fff" stroke="#62b072" stroke-width="2"/>
<rect x="2023.0" y="1572.5" width="16" height="4.6" fill="#fff" stroke="#62b072" stroke-width="2"/>
<rect x="2047.0" y="1571.9" width="16" height="5.2" fill="#fff" stroke="#62b072" stroke-width="2"/>
<rect x="2070.5" y="1571.5" width="17" height="6.1" fill="#6eb57a" stroke="#62b072" stroke-width="1"/>
<rect x="2094.5" y="1572.8" width="17" height="4.8" fill="#6eb57a" stroke="#62b072" stroke-width="1"/>
<rect x="2118.5" y="1574.1" width="17" height="3.5" fill="#6eb57a" stroke="#62b072" stroke-width="1"/>
<rect x="2142.5" y="1574.7" width="17" height="2.9" fill="#6eb57a" stroke="#62b072" stroke-width="1"/>
<rect x="2167.0" y="1572.6" width="16" height="4.5" fill="#fff" stroke="#62b072" stroke-width="2"/>
<rect x="2191.0" y="1571.5" width="16" height="5.6" fill="#fff" stroke="#62b072" stroke-width="2"/>
<rect x="2215.0" y="1567.2" width="16" height="9.9" fill="#fff" stroke="#62b072" stroke-width="2"/>
<rect x="2239.0" y="1563.9" width="16" height="13.2" fill="#fff" stroke="#62b072" stroke-width="2"/>
<rect x="2263.0" y="1560.3" width="16" height="16.8" fill="#fff" stroke="#62b072" stroke-width="2"/>
<rect x="2287.0" y="1559.5" width="16" height="17.6" fill="#fff" stroke="#62b072" stroke-width="2"/>
<rect x="2311.0" y="1552.7" width="16" height="24.4" fill="#fff" stroke="#62b072" stroke-width="2"/>
<rect x="2335.0" y="1545.9" width="16" height="31.2" fill="#fff" stroke="#62b072" stroke-width="2"/>
<rect x="2359.0" y="1533.5" width="16" height="43.6" fill="#fff" stroke="#62b072" stroke-width="2"/>
<rect x="2383.0" y="1529.2" width="16" height="47.9" fill="#fff" stroke="#62b072" stroke-width="2"/>
<rect x="2406.5" y="1532.3" width="17" height="45.3" fill="#6eb57a" stroke="#62b072" stroke-width="1"/>
<rect x="2430.5" y="1535.2" width="17" height="42.4" fill="#6eb57a" stroke="#62b072" stroke-width="1"/>
<rect x="2454.5" y="1545.9" width="17" height="31.7" fill="#6eb57a" stroke="#62b072" stroke-width="1"/>
<rect x="2478.5" y="1550.6" width="17" height="27.0" fill="#6eb57a" stroke="#62b072" stroke-width="1"/>
<rect x="2502.5" y="1553.4" width="17" height="24.2" fill="#6eb57a" stroke="#62b072" stroke-width="1"/>
<rect x="2527.0" y="1547.8" width="16" height="29.3" fill="#fff" stroke="#62b072" stroke-width="2"/>
<rect x="2550.5" y="1548.3" width="17" height="29.3" fill="#6eb57a" stroke="#62b072" stroke-width="1"/>
<rect x="2575.0" y="1544.9" width="16" height="32.2" fill="#fff" stroke="#62b072" stroke-width="2"/>
<rect x="2599.0" y="1536.6" width="16" height="40.5" fill="#fff" stroke="#62b072" stroke-width="2"/>
<rect x="2622.5" y="1536.4" width="17" height="41.2" fill="#6eb57a" stroke="#62b072" stroke-width="1"/>
<rect x="2646.5" y="1548.5" width="17" height="29.1" fill="#6eb57a" stroke="#62b072" stroke-width="1"/>
<rect x="2670.5" y="1556.1" width="17" height="21.5" fill="#6eb57a" stroke="#62b072" stroke-width="1"/>
<rect x="2694.5" y="1565.1" width="17" height="12.5" fill="#6eb57a" stroke="#62b072" stroke-width="1"/>
<rect x="2718.5" y="1573.3" width="17" height="4.3" fill="#6eb57a" stroke="#62b072" stroke-width="1"/>
<rect x="2742.5" y="1578.6" width="17" height="2.2" fill="#df6e67" stroke="#dc6259" stroke-width="1"/>
<rect x="2766.0" y="1575.3" width="18" height="2.8" fill="#62b072"/>
<rect x="2790.5" y="1578.6" width="17" height="5.3" fill="#df6e67" stroke="#dc6259" stroke-width="1"/>
<rect x="2814.5" y="1578.6" width="17" height="15.5" fill="#df6e67" stroke="#dc6259" stroke-width="1"/>
<rect x="2838.5" y="1578.6" width="17" height="28.3" fill="#df6e67" stroke="#dc6259" stroke-width="1"/>
<rect x="2862.5" y="1578.6" width="17" height="30.6" fill="#df6e67" stroke="#dc6259" stroke-width="1"/>
<rect x="2886.5" y="1578.6" width="17" height="33.8" fill="#df6e67" stroke="#dc6259" stroke-width="1"/>
<rect x="2911.0" y="1579.1" width="16" height="28.0" fill="#fff" stroke="#dc6259" stroke-width="2"/>
<rect x="2935.0" y="1579.1" width="16" height="15.8" fill="#fff" stroke="#dc6259" stroke-width="2"/>
<rect x="2959.0" y="1579.1" width="16" height="11.7" fill="#fff" stroke="#dc6259" stroke-width="2"/>
<rect x="2983.0" y="1579.1" width="16" height="8.7" fill="#fff" stroke="#dc6259" stroke-width="2"/>
<rect x="3006.5" y="1578.6" width="17" height="10.8" fill="#df6e67" stroke="#dc6259" stroke-width="1"/>
<rect x="3031.0" y="1579.1" width="16" height="7.1" fill="#fff" stroke="#dc6259" stroke-width="2"/>
<rect x="3055.0" y="1579.1" width="16" height="5.4" fill="#fff" stroke="#dc6259" stroke-width="2"/>
<rect x="3078.5" y="1578.6" width="17" height="8.4" fill="#df6e67" stroke="#dc6259" stroke-width="1"/>
<rect x="3102.5" y="1578.6" width="17" height="15.2" fill="#df6e67" stroke="#dc6259" stroke-width="1"/>
<rect x="3126.5" y="1578.6" width="17" height="21.0" fill="#df6e67" stroke="#dc6259" stroke-width="1"/>
<rect x="3150.5" y="1578.6" width="17" height="26.6" fill="#df6e67" stroke="#dc6259" stroke-width="1"/>
<rect x="3174.5" y="1578.6" width="17" height="32.3" fill="#df6e67" stroke="#dc6259" stroke-width="1"/>
<polyline points="39.0,1583.7 63.0,1584.8 87.0,1585.7 111.0,1587.1 135.0,1587.9 159.0,1589.0 183.0,1590.5 207.0,1591.5 231.0,1592.0 255.0,1591.3 279.0,1591.0 303.0,1591.1 327.0,1591.3 351.0,1590.8 375.0,1591.1 399.0,1592.6 423.0,1592.4 447.0,1592.6 471.0,1592.9 495.0,1592.9 519.0,1593.2 543.0,1589.8 567.0,1585.2 591.0,1581.9 615.0,1575.5 639.0,1571.1 663.0,1568.3 687.0,1566.4 711.0,1564.0 735.0,1564.6 759.0,1564.3 783.0,1563.9 807.0,1563.6 831.0,1565.2 855.0,1566.1 879.0,1566.8 903.0,1566.7 927.0,1566.7 951.0,1566.8 975.0,1567.1 999.0,1566.8 1023.0,1567.0 1047.0,1566.3 1071.0,1563.8 1095.0,1559.4 1119.0,1553.8 1143.0,1551.8 1167.0,1549.8 1191.0,1546.0 1215.0,1545.2 1239.0,1545.1 1263.0,1546.9 1287.0,1548.9 1311.0,1549.4 1335.0,1552.6 1359.0,1556.2 1383.0,1559.8 1407.0,1559.6 1431.0,1562.7 1455.0,1563.9 1479.0,1565.2 1503.0,1567.1 1527.0,1567.3 1551.0,1567.3 1575.0,1568.2 1599.0,1566.1 1623.0,1562.4 1647.0,1558.9 1671.0,1559.0 1695.0,1558.8 1719.0,1558.5 1743.0,1560.0 1767.0,1562.1 1791.0,1564.8 1815.0,1566.8 1839.0,1569.1 1863.0,1570.2 1887.0,1570.8 1911.0,1569.7 1935.0,1570.0 1959.0,1570.1 1983.0,1568.2 2007.0,1565.9 2031.0,1564.8 2055.0,1563.9 2079.0,1563.3 2103.0,1563.5 2127.0,1563.8 2151.0,1563.9 2175.0,1562.0 2199.0,1560.8 2223.0,1557.4 2247.0,1554.0 2271.0,1550.2 2295.0,1547.6 2319.0,1541.1 2343.0,1533.8 2367.0,1522.2 2391.0,1514.0 2415.0,1510.3 2439.0,1506.6 2463.0,1508.1 2487.0,1507.2 2511.0,1505.7 2535.0,1499.0 2559.0,1495.9 2583.0,1490.0 2607.0,1480.8 2631.0,1475.9 2655.0,1478.4 2679.0,1479.6 2703.0,1482.7 2727.0,1486.4 2751.0,1488.8 2775.0,1487.7 2799.0,1490.8 2823.0,1497.7 2847.0,1507.5 2871.0,1512.4 2895.0,1518.1 2919.0,1519.1 2943.0,1515.1 2967.0,1514.5 2991.0,1514.1 3015.0,1515.8 3039.0,1515.4 3063.0,1515.2 3087.0,1517.1 3111.0,1522.3 3135.0,1527.7 3159.0,1533.7 3183.0,1540.4" fill="none" stroke="#d64972" stroke-width="2" stroke-linejoin="round"/>
<polyline points="39.0,1583.7 63.0,1583.9 87.0,1584.3 111.0,1584.8 135.0,1585.5 159.0,1586.2 183.0,1587.0 207.0,1587.9 231.0,1588.7 255.0,1589.2 279.0,1589.6 303.0,1589.9 327.0,1590.2 351.0,1590.3 375.0,1590.5 399.0,1590.9 423.0,1591.2 447.0,1591.5 471.0,1591.8 495.0,1592.0 519.0,1592.2 543.0,1591.7 567.0,1590.4 591.0,1588.7 615.0,1586.1 639.0,1583.1 663.0,1580.1 687.0,1577.4 711.0,1574.7 735.0,1572.7 759.0,1571.0 783.0,1569.6 807.0,1568.4 831.0,1567.7 855.0,1567.4 879.0,1567.3 903.0,1567.2 927.0,1567.1 951.0,1567.0 975.0,1567.0 999.0,1567.0 1023.0,1567.0 1047.0,1566.9 1071.0,1566.3 1095.0,1564.9 1119.0,1562.7 1143.0,1560.5 1167.0,1558.3 1191.0,1555.9 1215.0,1553.7 1239.0,1552.0 1263.0,1551.0 1287.0,1550.6 1311.0,1550.3 1335.0,1550.8 1359.0,1551.9 1383.0,1553.5 1407.0,1554.7 1431.0,1556.3 1455.0,1557.8 1479.0,1559.3 1503.0,1560.9 1527.0,1562.1 1551.0,1563.2 1575.0,1564.2 1599.0,1564.6 1623.0,1564.1 1647.0,1563.1 1671.0,1562.3 1695.0,1561.6 1719.0,1561.0 1743.0,1560.8 1767.0,1561.0 1791.0,1561.8 1815.0,1562.8 1839.0,1564.0 1863.0,1565.3 1887.0,1566.4 1911.0,1567.0 1935.0,1567.6 1959.0,1568.1 1983.0,1568.1 2007.0,1567.7 2031.0,1567.1 2055.0,1566.5 2079.0,1565.8 2103.0,1565.4 2127.0,1565.1 2151.0,1564.8 2175.0,1564.3 2199.0,1563.6 2223.0,1562.3 2247.0,1560.7 2271.0,1558.6 2295.0,1556.4 2319.0,1553.3 2343.0,1549.4 2367.0,1544.0 2391.0,1538.0 2415.0,1532.4 2439.0,1527.3 2463.0,1523.4 2487.0,1520.2 2511.0,1517.3 2535.0,1513.6 2559.0,1510.1 2583.0,1506.1 2607.0,1501.0 2631.0,1496.0 2655.0,1492.5 2679.0,1489.9 2703.0,1488.5 2727.0,1488.1 2751.0,1488.2 2775.0,1488.1 2799.0,1488.7 2823.0,1490.5 2847.0,1493.9 2871.0,1497.6 2895.0,1501.7 2919.0,1505.2 2943.0,1507.1 2967.0,1508.6 2991.0,1509.7 3015.0,1510.9 3039.0,1511.8 3063.0,1512.5 3087.0,1513.4 3111.0,1515.2 3135.0,1517.7 3159.0,1520.9 3183.0,1524.8" fill="none" stroke="#ebb030" stroke-width="2" stroke-linejoin="round"/>
<line x1="3183" y1="346" x2="3183" y2="1690" stroke="#777" stroke-width="2" stroke-dasharray="10 10.07"/>
<line x1="0" y1="1545" x2="3209" y2="1545" stroke="#777" stroke-width="2" stroke-dasharray="10 10"/>
<rect x="3209" y="1092.4" width="11" height="2" fill="#bdbdbd"/>
<rect x="3349" y="1092.4" width="9" height="2" fill="#bdbdbd"/>
<text x="3284" y="1099.4" text-anchor="middle" fill="#c2c2c2">80.000</text>
<rect x="3209" y="990.4" width="11" height="2" fill="#bdbdbd"/>
<rect x="3349" y="990.4" width="9" height="2" fill="#bdbdbd"/>
<text x="3284" y="997.4" text-anchor="middle" fill="#c2c2c2">90.000</text>
<rect x="3209" y="888.3" width="11" height="2" fill="#bdbdbd"/>
<rect x="3349" y="888.3" width="9" height="2" fill="#bdbdbd"/>
<text x="3284" y="895.3" text-anchor="middle" fill="#c2c2c2">100.000</text>
<rect x="3209" y="786.2" width="11" height="2" fill="#bdbdbd"/>
<rect x="3349" y="786.2" width="9" height="2" fill="#bdbdbd"/>
<text x="3284" y="793.2" text-anchor="middle" fill="#c2c2c2">110.000</text>
<rect x="3209" y="684.1" width="11" height="2" fill="#bdbdbd"/>
<rect x="3349" y="684.1" width="9" height="2" fill="#bdbdbd"/>
<text x="3284" y="691.1" text-anchor="middle" fill="#c2c2c2">120.000</text>
<rect x="3209" y="582.1" width="11" height="2" fill="#bdbdbd"/>
<rect x="3349" y="582.1" width="9" height="2" fill="#bdbdbd"/>
<text x="3284" y="589.1" text-anchor="middle" fill="#c2c2c2">130.000</text>
<rect x="3209" y="480.0" width="11" height="2" fill="#bdbdbd"/>
<rect x="3349" y="480.0" width="9" height="2" fill="#bdbdbd"/>
<text x="3284" y="487.0" text-anchor="middle" fill="#c2c2c2">140.000</text>
<rect x="3209" y="1382.0" width="11" height="2" fill="#bdbdbd"/>
<rect x="3349" y="1382.0" width="9" height="2" fill="#bdbdbd"/>
<text x="3284" y="1389.0" text-anchor="middle" fill="#c2c2c2">100000.00</text>
<rect x="3209" y="1338.0" width="11" height="2" fill="#bdbdbd"/>
<rect x="3349" y="1338.0" width="9" height="2" fill="#bdbdbd"/>
<text x="3284" y="1345.0" text-anchor="middle" fill="#c2c2c2">200000.00</text>
<rect x="3209" y="1294.0" width="11" height="2" fill="#bdbdbd"/>
<rect x="3349" y="1294.0" width="9" height="2" fill="#bdbdbd"/>
<text x="3284" y="1301.0" text-anchor="middle" fill="#c2c2c2">300000.00</text>
<rect x="3209" y="1250.0" width="11" height="2" fill="#bdbdbd"/>
<rect x="3349" y="1250.0" width="9" height="2" fill="#bdbdbd"/>
<text x="3284" y="1257.0" text-anchor="middle" fill="#c2c2c2">400000.00</text>
<rect x="3209" y="1476.0" width="11" height="2" fill="#bdbdbd"/>
<rect x="3349" y="1476.0" width="9" height="2" fill="#bdbdbd"/>
<text x="3284" y="1483.0" text-anchor="middle" fill="#c2c2c2">9.19</text>
<rect x="3209" y="1516.0" width="11" height="2" fill="#bdbdbd"/>
<rect x="3349" y="1516.0" width="9" height="2" fill="#bdbdbd"/>
<text x="3284" y="1523.0" text-anchor="middle" fill="#c2c2c2">5.51</text>
<rect x="3209" y="1598.0" width="11" height="2" fill="#bdbdbd"/>
<rect x="3349" y="1598.0" width="9" height="2" fill="#bdbdbd"/>
<text x="3284" y="1605.0" text-anchor="middle" fill="#c2c2c2">-1.84</text>
<rect x="3209" y="1640.0" width="11" height="2" fill="#bdbdbd"/>
<rect x="3349" y="1640.0" width="9" height="2" fill="#bdbdbd"/>
<text x="3284" y="1647.0" text-anchor="middle" fill="#c2c2c2">-5.51</text>
<rect x="3209" y="1680.0" width="11" height="2" fill="#bdbdbd"/>
<rect x="3349" y="1680.0" width="9" height="2" fill="#bdbdbd"/>
<text x="3284" y="1687.0" text-anchor="middle" fill="#c2c2c2">-9.19</text>
<path d="M3217.2 579.0999999999999 H3360 V618.5 H3217.2 V606.3 L3209 598.8 L3217.2 591.3 Z" fill="#fff" fill-opacity="0.8" stroke="#dc6259" stroke-width="2"/>
<text x="3284" y="609.1" text-anchor="middle" fill="#dc6259">128.461</text>
<path d="M3217.2 1391.1 H3360 V1430.5 H3217.2 V1418.3 L3209 1410.8 L3217.2 1403.3 Z" fill="#fff" fill-opacity="0.8" stroke="#dc6259" stroke-width="2"/>
<text x="3284" y="1421.1" text-anchor="middle" fill="#dc6259">38274.68</text>
<path d="M3217.2 1525.1 H3360 V1564.5 H3217.2 V1552.3 L3209 1544.8 L3217.2 1537.3 Z" fill="#27314d" fill-opacity="1" stroke="#27314d" stroke-width="2"/>
<text x="3284" y="1555.1" text-anchor="middle" fill="#fff">3.06</text>
<text x="8" y="1231" fill="#555">VOLUME(5,10) <tspan fill="#d64972" dx="6">MA5: 88453.48</tspan> <tspan fill="#ebb030" dx="6">MA10: 79914.90</tspan></text>
<text x="8" y="1459" fill="#555">MACD(12,26,9) <tspan fill="#d64972" dx="6">DIF: 3.3767</tspan> <tspan fill="#ebb030" dx="6">DEA: 4.7868</tspan></text>
<rect x="61.7" y="1690" width="2" height="9" fill="#bdbdbd"/>
<text x="62.7" y="1719.5" text-anchor="middle" fill="#555">3月23日</text>
<rect x="205.7" y="1690" width="2" height="9" fill="#bdbdbd"/>
<text x="206.7" y="1719.5" text-anchor="middle" fill="#c2c2c2">6:00</text>
<rect x="349.7" y="1690" width="2" height="9" fill="#bdbdbd"/>
<text x="350.7" y="1719.5" text-anchor="middle" fill="#c2c2c2">12:00</text>
<rect x="493.7" y="1690" width="2" height="9" fill="#bdbdbd"/>
<text x="494.7" y="1719.5" text-anchor="middle" fill="#c2c2c2">18:00</text>
<rect x="637.7" y="1690" width="2" height="9" fill="#bdbdbd"/>
<text x="638.7" y="1719.5" text-anchor="middle" fill="#555">3月24日</text>
<rect x="781.7" y="1690" width="2" height="9" fill="#bdbdbd"/>
<text x="782.7" y="1719.5" text-anchor="middle" fill="#c2c2c2">6:00</text>
<rect x="925.7" y="1690" width="2" height="9" fill="#bdbdbd"/>
<text x="926.7" y="1719.5" text-anchor="middle" fill="#c2c2c2">12:00</text>
<rect x="1069.7" y="1690" width="2" height="9" fill="#bdbdbd"/>
<text x="1070.7" y="1719.5" text-anchor="middle" fill="#c2c2c2">18:00</text>
<rect x="1213.7" y="1690" width="2" height="9" fill="#bdbdbd"/>
<text x="1214.7" y="1719.5" text-anchor="middle" fill="#555">3月25日</text>
<rect x="1357.7" y="1690" width="2" height="9" fill="#bdbdbd"/>
<text x="1358.7" y="1719.5" text-anchor="middle" fill="#c2c2c2">6:00</text>
<rect x="1501.7" y="1690" width="2" height="9" fill="#bdbdbd"/>
<text x="1502.7" y="1719.5" text-anchor="middle" fill="#c2c2c2">12:00</text>
<rect x="1645.7" y="1690" width="2" height="9" fill="#bdbdbd"/>
<text x="1646.7" y="1719.5" text-anchor="middle" fill="#c2c2c2">18:00</text>
<rect x="1789.7" y="1690" width="2" height="9" fill="#bdbdbd"/>
<text x="1790.7" y="1719.5" text-anchor="middle" fill="#555">3月26日</text>
<rect x="1933.7" y="1690" width="2" height="9" fill="#bdbdbd"/>
<text x="1934.7" y="1719.5" text-anchor="middle" fill="#c2c2c2">6:00</text>
<rect x="2077.7" y="1690" width="2" height="9" fill="#bdbdbd"/>
<text x="2078.7" y="1719.5" text-anchor="middle" fill="#c2c2c2">12:00</text>
<rect x="2221.7" y="1690" width="2" height="9" fill="#bdbdbd"/>
<text x="2222.7" y="1719.5" text-anchor="middle" fill="#c2c2c2">18:00</text>
<rect x="2365.7" y="1690" width="2" height="9" fill="#bdbdbd"/>
<text x="2366.7" y="1719.5" text-anchor="middle" fill="#555">3月27日</text>
<rect x="2509.7" y="1690" width="2" height="9" fill="#bdbdbd"/>
<text x="2510.7" y="1719.5" text-anchor="middle" fill="#c2c2c2">6:00</text>
<rect x="2653.7" y="1690" width="2" height="9" fill="#bdbdbd"/>
<text x="2654.7" y="1719.5" text-anchor="middle" fill="#c2c2c2">12:00</text>
<rect x="2797.7" y="1690" width="2" height="9" fill="#bdbdbd"/>
<text x="2798.7" y="1719.5" text-anchor="middle" fill="#c2c2c2">18:00</text>
<rect x="2941.7" y="1690" width="2" height="9" fill="#bdbdbd"/>
<text x="2942.7" y="1719.5" text-anchor="middle" fill="#555">3月28日</text>
<rect x="3085.7" y="1690" width="2" height="9" fill="#bdbdbd"/>
<text x="3086.7" y="1719.5" text-anchor="middle" fill="#c2c2c2">6:00</text>
<path d="M3094 1698.200 H3176 L3183 1690.600 L3190.500 1698.200 H3271 V1726 H3094 Z" fill="#27314d"/>
<text x="3182" y="1724" text-anchor="middle" fill="#fff">3月28日 10:00</text>
</svg>
<div id="info" class="a">
<div style="top:3px">时间<span>2021-03-28 10:00</span></div>
<div style="top:39px">开<span>130.200</span></div>
<div style="top:75px">高<span>130.612</span></div>
<div style="top:111px">低<span>127.930</span></div>
<div style="top:147px">收<span>128.461</span></div>
<div style="top:183px">涨幅<span style=color:#e3685c>-1.41%</span></div>
<div style="top:219px">振幅<span>2.06%</span></div>
<div style="top:255px">成交量<span>38274.68</span></div>
<div style="top:291px;color:#dc5078">BOLL<span style=color:#dc5078>131.468</span></div>
<div style="top:327px;color:#f0b23c">UB<span style=color:#f0b23c>139.440</span></div>
<div style="top:363px;color:#c65ae0">LB<span style=color:#c65ae0>123.497</span></div>
</div>
<svg class="a" style="left:32px;top:1611px" width="80" height="80" viewBox="0 0 80 80"><circle cx="40" cy="40" r="40" fill="#2f62e3"/><circle cx="40" cy="40" r="23" fill="none" stroke="#fff" stroke-width="3"/><circle cx="40" cy="29" r="2.800" fill="#fff"/><rect x="38" y="35" width="4" height="17" rx="1.500" fill="#fff"/></svg>
<div class="a" style="left:520px;top:1636px;width:2230px;height:90px;background:linear-gradient(to bottom,rgba(0,0,0,0) 0%,rgba(0,0,0,0.025) 55%,rgba(0,0,0,0.13) 100%);-webkit-mask-image:linear-gradient(to right,transparent 0%,#000 9%,#000 93%,transparent 100%);mask-image:linear-gradient(to right,transparent 0%,#000 9%,#000 93%,transparent 100%);pointer-events:none"></div>
<div class="a" style="left:0;top:1724px;width:625px;height:2px;background:#1c1c1c"></div>
<div class="a" style="left:625px;top:1724px;width:1815px;height:2px;background:linear-gradient(to right,#4a4a4a,#8a8a8a)"></div>
<div class="a" style="left:2440px;top:1724px;width:290px;height:2px;background:#d9753c"></div>
<div class="a" style="left:2730px;top:1724px;width:628px;height:2px;background:#1b2440"></div>
<svg class="a" style="left:0;top:1714px" width="12" height="12" viewBox="0 0 12 12"><path d="M0 0 V12 H12 Q0 12 0 0Z" fill="#1c1c1c"/></svg>
<svg class="a" style="left:3346px;top:1714px" width="12" height="12" viewBox="0 0 12 12"><path d="M12 0 V12 H0 Q12 12 12 0Z" fill="#1b2440"/></svg>
</div></body></html>
